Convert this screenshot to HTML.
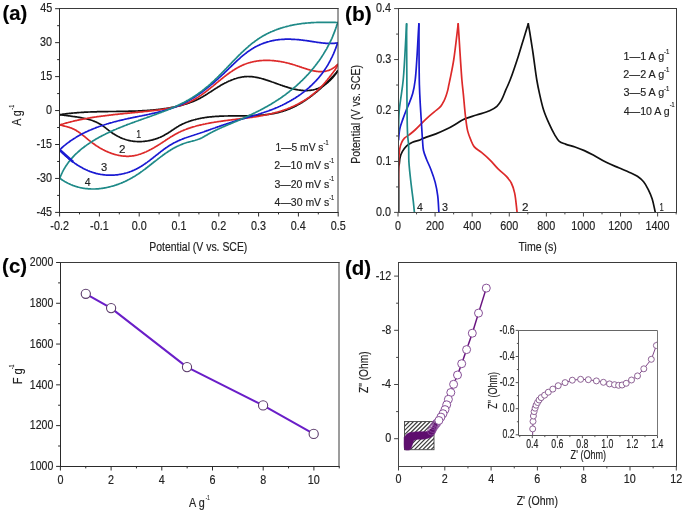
<!DOCTYPE html>
<html><head><meta charset="utf-8">
<style>
html,body{margin:0;padding:0;background:#fff;}
svg{display:block;will-change:transform;}
text{font-family:"Liberation Sans", sans-serif;stroke:#222;stroke-width:0.16px;}
</style></head><body>
<svg width="685" height="513" viewBox="0 0 685 513">
<rect width="685" height="513" fill="#fff"/>
<defs>
<clipPath id="ca"><rect x="59.5" y="8.5" width="278.5" height="204.0"/></clipPath>
<clipPath id="cb"><rect x="398.5" y="8.5" width="278.0" height="204.0"/></clipPath>
<clipPath id="ch"><rect x="404.5" y="421.5" width="29.5" height="28.2"/></clipPath>
<clipPath id="ci"><rect x="518.5" y="330.5" width="139.0" height="105.0"/></clipPath>
<pattern id="hatch" patternUnits="userSpaceOnUse" width="2.2" height="2.2" patternTransform="rotate(45)"><rect width="2.2" height="2.2" fill="#fff"/><line x1="0.5" y1="0" x2="0.5" y2="2.2" stroke="#333" stroke-width="0.85"/></pattern>
</defs>
<g clip-path="url(#ca)">
<path d="M59.8 114.7 L60.6 114.6 L61.4 114.5 L62.2 114.3 L62.9 114.2 L63.7 114.1 L64.5 114.0 L65.3 113.9 L66.1 113.8 L66.9 113.7 L67.7 113.6 L68.5 113.5 L69.3 113.4 L70.1 113.3 L70.9 113.3 L71.7 113.2 L72.4 113.1 L73.2 113.0 L74.0 113.0 L74.8 112.9 L75.6 112.8 L76.4 112.8 L77.2 112.7 L78.0 112.6 L78.8 112.6 L79.6 112.5 L80.4 112.5 L81.2 112.4 L82.0 112.4 L82.8 112.3 L83.6 112.3 L84.4 112.2 L85.2 112.2 L86.0 112.1 L86.8 112.1 L87.6 112.1 L88.5 112.0 L89.3 112.0 L90.1 112.0 L90.9 111.9 L91.7 111.9 L92.5 111.9 L93.3 111.9 L94.1 111.8 L94.9 111.8 L95.7 111.8 L96.5 111.8 L97.3 111.7 L98.1 111.7 L98.9 111.7 L99.7 111.7 L100.6 111.7 L101.4 111.7 L102.2 111.6 L103.0 111.6 L103.8 111.6 L104.6 111.6 L105.4 111.6 L106.2 111.6 L107.0 111.6 L107.8 111.6 L108.7 111.5 L109.5 111.5 L110.3 111.5 L111.1 111.5 L111.9 111.5 L112.7 111.5 L113.5 111.5 L114.3 111.5 L115.1 111.5 L115.9 111.5 L116.8 111.4 L117.6 111.4 L118.4 111.4 L119.2 111.4 L120.0 111.4 L120.8 111.4 L121.6 111.4 L122.4 111.4 L123.2 111.4 L124.0 111.3 L124.9 111.3 L125.7 111.3 L126.5 111.3 L127.3 111.3 L128.1 111.3 L128.9 111.2 L129.7 111.2 L130.5 111.2 L131.3 111.2 L132.1 111.2 L132.9 111.1 L133.7 111.1 L134.6 111.1 L135.4 111.1 L136.2 111.0 L137.0 111.0 L137.8 111.0 L138.6 110.9 L139.4 110.9 L140.2 110.9 L141.0 110.8 L141.8 110.8 L142.6 110.7 L143.4 110.7 L144.2 110.6 L145.0 110.6 L145.8 110.6 L146.6 110.5 L147.4 110.4 L148.2 110.4 L149.0 110.3 L149.8 110.3 L150.6 110.2 L151.4 110.1 L152.2 110.1 L153.0 110.0 L153.8 109.9 L154.6 109.9 L155.4 109.8 L156.2 109.7 L157.0 109.6 L157.8 109.5 L158.6 109.4 L159.4 109.3 L160.2 109.3 L161.0 109.2 L161.7 109.1 L162.5 108.9 L163.3 108.8 L164.1 108.7 L164.9 108.6 L165.7 108.5 L166.5 108.4 L167.3 108.3 L168.1 108.1 L168.8 108.0 L169.6 107.9 L170.4 107.7 L171.2 107.6 L172.0 107.4 L172.8 107.3 L173.5 107.1 L174.3 107.0 L175.1 106.8 L175.9 106.7 L176.6 106.5 L177.4 106.3 L178.2 106.1 L179.0 105.9 L179.7 105.8 L180.5 105.6 L181.3 105.4 L182.0 105.2 L182.8 105.0 L183.6 104.7 L184.3 104.5 L185.1 104.3 L185.8 104.1 L186.6 103.8 L187.3 103.6 L188.1 103.3 L188.8 103.1 L189.6 102.8 L190.3 102.5 L191.1 102.3 L191.8 102.0 L192.5 101.7 L193.3 101.4 L194.0 101.1 L194.7 100.8 L195.5 100.4 L196.2 100.1 L196.9 99.8 L197.6 99.4 L198.3 99.1 L199.0 98.7 L199.8 98.4 L200.5 98.0 L201.2 97.6 L201.9 97.2 L202.6 96.8 L203.2 96.4 L203.9 96.0 L204.6 95.6 L205.3 95.2 L206.0 94.7 L206.7 94.3 L207.4 93.9 L208.1 93.4 L208.7 93.0 L209.4 92.6 L210.1 92.1 L210.8 91.7 L211.5 91.2 L212.2 90.8 L212.8 90.3 L213.5 89.9 L214.2 89.4 L214.9 89.0 L215.6 88.6 L216.3 88.1 L217.0 87.7 L217.7 87.2 L218.4 86.8 L219.1 86.4 L219.8 86.0 L220.5 85.5 L221.2 85.1 L221.9 84.7 L222.6 84.3 L223.3 83.9 L224.1 83.5 L224.8 83.1 L225.5 82.8 L226.3 82.4 L227.0 82.0 L227.7 81.7 L228.5 81.3 L229.2 81.0 L230.0 80.7 L230.7 80.4 L231.5 80.1 L232.2 79.8 L233.0 79.5 L233.7 79.2 L234.5 78.9 L235.2 78.7 L236.0 78.5 L236.8 78.2 L237.5 78.0 L238.3 77.8 L239.1 77.6 L239.8 77.5 L240.6 77.3 L241.4 77.2 L242.1 77.0 L242.9 76.9 L243.7 76.8 L244.4 76.7 L245.2 76.7 L246.0 76.6 L246.7 76.6 L247.5 76.5 L248.3 76.5 L249.0 76.6 L249.8 76.6 L250.6 76.6 L251.4 76.7 L252.1 76.7 L252.9 76.8 L253.7 76.9 L254.4 77.0 L255.2 77.2 L256.0 77.3 L256.7 77.4 L257.5 77.6 L258.3 77.7 L259.0 77.9 L259.8 78.1 L260.6 78.3 L261.4 78.5 L262.1 78.7 L262.9 78.9 L263.7 79.1 L264.4 79.4 L265.2 79.6 L266.0 79.9 L266.8 80.1 L267.5 80.4 L268.3 80.6 L269.1 80.9 L269.9 81.2 L270.6 81.4 L271.4 81.7 L272.2 82.0 L273.0 82.2 L273.8 82.5 L274.5 82.8 L275.3 83.1 L276.1 83.4 L276.9 83.7 L277.7 83.9 L278.4 84.2 L279.2 84.5 L280.0 84.8 L280.8 85.1 L281.6 85.3 L282.4 85.6 L283.1 85.9 L283.9 86.1 L284.7 86.4 L285.5 86.7 L286.3 86.9 L287.1 87.1 L287.9 87.4 L288.6 87.6 L289.4 87.9 L290.2 88.1 L291.0 88.3 L291.8 88.5 L292.6 88.7 L293.4 88.9 L294.1 89.1 L294.9 89.3 L295.7 89.4 L296.5 89.6 L297.3 89.7 L298.0 89.9 L298.8 90.0 L299.6 90.1 L300.4 90.2 L301.1 90.3 L301.9 90.4 L302.7 90.4 L303.4 90.5 L304.2 90.5 L305.0 90.6 L305.7 90.6 L306.5 90.6 L307.3 90.6 L308.0 90.5 L308.8 90.5 L309.5 90.4 L310.3 90.3 L311.0 90.2 L311.7 90.1 L312.5 90.0 L313.2 89.9 L313.9 89.7 L314.7 89.5 L315.4 89.3 L316.1 89.1 L316.8 88.8 L317.5 88.6 L318.3 88.3 L319.0 88.0 L319.7 87.7 L320.4 87.3 L321.1 87.0 L321.7 86.6 L322.4 86.2 L323.1 85.8 L323.8 85.4 L324.4 85.0 L325.1 84.5 L325.8 84.0 L326.4 83.5 L327.0 83.0 L327.7 82.5 L328.3 82.0 L328.9 81.4 L329.5 80.9 L330.1 80.3 L330.7 79.7 L331.3 79.1 L331.9 78.5 L332.5 77.9 L333.0 77.2 L333.6 76.6 L334.1 75.9 L334.6 75.2 L335.2 74.6 L335.7 73.9 L336.2 73.2 L336.7 72.5 L337.1 71.7 L337.6 71.0" fill="none" stroke="#111" stroke-width="1.7" stroke-linejoin="round" stroke-linecap="round"/>
<path d="M337.6 71.0 L337.1 71.6 L336.7 72.2 L336.2 72.8 L335.7 73.4 L335.1 74.0 L334.6 74.6 L334.1 75.2 L333.5 75.8 L333.0 76.3 L332.4 76.9 L331.9 77.5 L331.3 78.0 L330.8 78.6 L330.3 79.2 L329.7 79.7 L329.1 80.3 L328.6 80.8 L328.0 81.4 L327.5 82.0 L326.9 82.5 L326.3 83.1 L325.8 83.6 L325.2 84.2 L324.6 84.7 L324.1 85.3 L323.5 85.8 L322.9 86.4 L322.3 86.9 L321.7 87.4 L321.1 88.0 L320.5 88.5 L319.9 89.0 L319.3 89.6 L318.7 90.1 L318.1 90.6 L317.5 91.2 L316.9 91.7 L316.2 92.2 L315.6 92.7 L315.0 93.2 L314.3 93.7 L313.7 94.2 L313.1 94.7 L312.4 95.3 L311.8 95.7 L311.1 96.2 L310.5 96.7 L309.8 97.2 L309.1 97.7 L308.5 98.2 L307.8 98.6 L307.1 99.1 L306.5 99.6 L305.8 100.0 L305.1 100.5 L304.4 100.9 L303.7 101.4 L303.0 101.8 L302.4 102.2 L301.7 102.7 L301.0 103.1 L300.3 103.5 L299.6 103.9 L298.9 104.3 L298.1 104.7 L297.4 105.1 L296.7 105.5 L296.0 105.9 L295.3 106.2 L294.6 106.6 L293.8 106.9 L293.1 107.3 L292.4 107.6 L291.7 108.0 L290.9 108.3 L290.2 108.6 L289.4 108.9 L288.7 109.2 L288.0 109.5 L287.2 109.8 L286.5 110.1 L285.7 110.3 L285.0 110.6 L284.2 110.8 L283.5 111.1 L282.7 111.3 L282.0 111.6 L281.2 111.8 L280.4 112.0 L279.7 112.2 L278.9 112.4 L278.1 112.6 L277.4 112.8 L276.6 112.9 L275.8 113.1 L275.1 113.3 L274.3 113.4 L273.5 113.6 L272.7 113.7 L271.9 113.8 L271.2 114.0 L270.4 114.1 L269.6 114.2 L268.8 114.3 L268.0 114.4 L267.2 114.5 L266.4 114.6 L265.6 114.7 L264.9 114.8 L264.1 114.9 L263.3 115.0 L262.5 115.0 L261.7 115.1 L260.9 115.2 L260.1 115.2 L259.3 115.3 L258.5 115.3 L257.7 115.4 L256.9 115.4 L256.1 115.5 L255.3 115.5 L254.5 115.6 L253.7 115.6 L252.8 115.6 L252.0 115.7 L251.2 115.7 L250.4 115.7 L249.6 115.7 L248.8 115.7 L248.0 115.8 L247.2 115.8 L246.4 115.8 L245.6 115.8 L244.8 115.8 L243.9 115.8 L243.1 115.8 L242.3 115.8 L241.5 115.8 L240.7 115.8 L239.9 115.9 L239.1 115.9 L238.3 115.9 L237.4 115.9 L236.6 115.9 L235.8 115.9 L235.0 115.9 L234.2 115.9 L233.4 115.9 L232.6 115.9 L231.7 115.9 L230.9 115.9 L230.1 115.9 L229.3 115.9 L228.5 115.9 L227.7 116.0 L226.9 116.0 L226.1 116.0 L225.2 116.0 L224.4 116.0 L223.6 116.1 L222.8 116.1 L222.0 116.1 L221.2 116.1 L220.4 116.2 L219.6 116.2 L218.8 116.3 L218.0 116.3 L217.2 116.3 L216.4 116.4 L215.6 116.4 L214.8 116.5 L214.0 116.6 L213.2 116.6 L212.4 116.7 L211.6 116.8 L210.8 116.9 L210.0 116.9 L209.2 117.0 L208.4 117.1 L207.6 117.2 L206.8 117.3 L206.0 117.4 L205.2 117.5 L204.4 117.7 L203.6 117.8 L202.8 117.9 L202.1 118.0 L201.3 118.2 L200.5 118.3 L199.7 118.5 L198.9 118.7 L198.2 118.8 L197.4 119.0 L196.6 119.2 L195.8 119.4 L195.1 119.6 L194.3 119.8 L193.5 120.0 L192.8 120.2 L192.0 120.4 L191.2 120.7 L190.5 120.9 L189.7 121.2 L189.0 121.4 L188.2 121.7 L187.5 122.0 L186.7 122.2 L186.0 122.5 L185.3 122.8 L184.5 123.2 L183.8 123.5 L183.1 123.8 L182.4 124.1 L181.6 124.5 L180.9 124.9 L180.2 125.2 L179.5 125.6 L178.8 126.0 L178.2 126.4 L177.5 126.8 L176.8 127.2 L176.1 127.7 L175.4 128.1 L174.8 128.5 L174.1 129.0 L173.4 129.4 L172.8 129.9 L172.1 130.3 L171.4 130.8 L170.8 131.2 L170.1 131.7 L169.4 132.1 L168.8 132.5 L168.1 133.0 L167.4 133.4 L166.7 133.8 L166.0 134.2 L165.3 134.6 L164.6 135.0 L163.9 135.4 L163.2 135.8 L162.5 136.2 L161.7 136.5 L161.0 136.9 L160.3 137.2 L159.5 137.5 L158.7 137.8 L158.0 138.1 L157.2 138.4 L156.5 138.7 L155.7 138.9 L154.9 139.2 L154.1 139.4 L153.3 139.6 L152.6 139.9 L151.8 140.1 L151.0 140.2 L150.2 140.4 L149.4 140.6 L148.6 140.7 L147.8 140.9 L147.0 141.0 L146.2 141.1 L145.3 141.2 L144.5 141.3 L143.7 141.4 L142.9 141.5 L142.1 141.5 L141.3 141.6 L140.5 141.6 L139.7 141.6 L138.9 141.6 L138.1 141.6 L137.3 141.6 L136.5 141.5 L135.7 141.5 L134.9 141.4 L134.1 141.3 L133.3 141.3 L132.5 141.1 L131.7 141.0 L130.9 140.9 L130.1 140.7 L129.3 140.6 L128.6 140.4 L127.8 140.2 L127.0 140.0 L126.2 139.8 L125.5 139.5 L124.7 139.3 L124.0 139.0 L123.2 138.8 L122.5 138.5 L121.8 138.2 L121.0 137.9 L120.3 137.5 L119.6 137.2 L118.9 136.8 L118.2 136.5 L117.4 136.1 L116.7 135.7 L116.0 135.3 L115.4 134.9 L114.7 134.5 L114.0 134.1 L113.3 133.7 L112.6 133.2 L112.0 132.8 L111.3 132.3 L110.6 131.8 L110.0 131.3 L109.4 130.9 L108.7 130.4 L108.1 129.9 L107.4 129.4 L106.8 128.9 L106.2 128.4 L105.5 127.9 L104.9 127.4 L104.2 126.9 L103.6 126.4 L102.9 125.9 L102.3 125.5 L101.6 125.0 L100.9 124.6 L100.2 124.2 L99.5 123.8 L98.8 123.4 L98.1 123.0 L97.4 122.7 L96.7 122.3 L96.0 122.0 L95.3 121.7 L94.5 121.4 L93.8 121.1 L93.0 120.8 L92.3 120.5 L91.5 120.3 L90.8 120.0 L90.0 119.8 L89.2 119.6 L88.4 119.3 L87.7 119.1 L86.9 118.9 L86.1 118.7 L85.3 118.5 L84.5 118.4 L83.7 118.2 L82.9 118.0 L82.1 117.9 L81.3 117.7 L80.5 117.6 L79.7 117.4 L78.9 117.3 L78.1 117.2 L77.3 117.0 L76.5 116.9 L75.7 116.8 L74.9 116.7 L74.1 116.6 L73.2 116.5 L72.4 116.4 L71.6 116.3 L70.8 116.1 L70.0 116.0 L69.2 115.9 L68.4 115.8 L67.6 115.7 L66.8 115.6 L66.0 115.5 L65.2 115.4 L64.5 115.3 L63.7 115.2 L62.9 115.1 L62.1 115.0 L61.3 114.9 L60.6 114.8 L59.8 114.7" fill="none" stroke="#111" stroke-width="1.7" stroke-linejoin="round" stroke-linecap="round"/>
<path d="M59.8 124.9 L60.6 124.7 L61.3 124.4 L62.1 124.2 L62.9 124.0 L63.6 123.7 L64.4 123.5 L65.1 123.3 L65.9 123.1 L66.7 122.9 L67.5 122.7 L68.2 122.5 L69.0 122.3 L69.8 122.1 L70.5 121.9 L71.3 121.7 L72.1 121.5 L72.9 121.3 L73.6 121.1 L74.4 120.9 L75.2 120.7 L76.0 120.6 L76.8 120.4 L77.5 120.2 L78.3 120.1 L79.1 119.9 L79.9 119.7 L80.7 119.6 L81.5 119.4 L82.3 119.3 L83.0 119.1 L83.8 119.0 L84.6 118.8 L85.4 118.7 L86.2 118.5 L87.0 118.4 L87.8 118.2 L88.6 118.1 L89.4 118.0 L90.1 117.8 L90.9 117.7 L91.7 117.6 L92.5 117.4 L93.3 117.3 L94.1 117.2 L94.9 117.1 L95.7 117.0 L96.5 116.8 L97.3 116.7 L98.1 116.6 L98.9 116.5 L99.7 116.4 L100.5 116.3 L101.3 116.2 L102.1 116.1 L102.9 116.0 L103.7 115.9 L104.5 115.8 L105.3 115.7 L106.1 115.6 L106.9 115.5 L107.7 115.4 L108.5 115.3 L109.3 115.2 L110.1 115.1 L110.9 115.0 L111.7 114.9 L112.5 114.8 L113.3 114.7 L114.1 114.6 L114.9 114.5 L115.7 114.4 L116.5 114.4 L117.3 114.3 L118.1 114.2 L119.0 114.1 L119.8 114.0 L120.6 113.9 L121.4 113.9 L122.2 113.8 L123.0 113.7 L123.8 113.6 L124.6 113.5 L125.4 113.4 L126.2 113.4 L127.0 113.3 L127.8 113.2 L128.6 113.1 L129.4 113.1 L130.2 113.0 L131.0 112.9 L131.8 112.8 L132.6 112.7 L133.4 112.7 L134.3 112.6 L135.1 112.5 L135.9 112.4 L136.7 112.3 L137.5 112.3 L138.3 112.2 L139.1 112.1 L139.9 112.0 L140.7 111.9 L141.5 111.9 L142.3 111.8 L143.1 111.7 L143.9 111.6 L144.7 111.5 L145.5 111.4 L146.3 111.4 L147.1 111.3 L147.9 111.2 L148.7 111.1 L149.5 111.0 L150.3 110.9 L151.1 110.8 L151.9 110.7 L152.7 110.7 L153.5 110.6 L154.3 110.5 L155.1 110.4 L155.9 110.3 L156.7 110.2 L157.5 110.1 L158.3 110.0 L159.1 109.9 L159.9 109.8 L160.7 109.6 L161.5 109.5 L162.2 109.4 L163.0 109.3 L163.8 109.2 L164.6 109.1 L165.4 108.9 L166.2 108.8 L167.0 108.7 L167.7 108.5 L168.5 108.4 L169.3 108.2 L170.1 108.1 L170.8 107.9 L171.6 107.7 L172.4 107.6 L173.2 107.4 L173.9 107.2 L174.7 107.0 L175.4 106.8 L176.2 106.6 L177.0 106.4 L177.7 106.2 L178.5 106.0 L179.2 105.8 L180.0 105.6 L180.7 105.3 L181.5 105.1 L182.2 104.9 L183.0 104.6 L183.7 104.3 L184.4 104.1 L185.2 103.8 L185.9 103.5 L186.6 103.2 L187.3 102.9 L188.0 102.6 L188.8 102.3 L189.5 102.0 L190.2 101.6 L190.9 101.3 L191.6 100.9 L192.3 100.6 L193.0 100.2 L193.7 99.8 L194.4 99.4 L195.1 99.0 L195.8 98.6 L196.4 98.2 L197.1 97.8 L197.8 97.4 L198.5 96.9 L199.1 96.5 L199.8 96.0 L200.5 95.6 L201.2 95.1 L201.8 94.6 L202.5 94.2 L203.1 93.7 L203.8 93.2 L204.4 92.7 L205.1 92.2 L205.8 91.7 L206.4 91.2 L207.1 90.7 L207.7 90.2 L208.4 89.7 L209.0 89.2 L209.6 88.7 L210.3 88.2 L210.9 87.7 L211.6 87.1 L212.2 86.6 L212.9 86.1 L213.5 85.6 L214.1 85.0 L214.8 84.5 L215.4 84.0 L216.1 83.4 L216.7 82.9 L217.3 82.4 L218.0 81.9 L218.6 81.3 L219.3 80.8 L219.9 80.3 L220.5 79.8 L221.2 79.2 L221.8 78.7 L222.5 78.2 L223.1 77.7 L223.8 77.2 L224.4 76.7 L225.0 76.2 L225.7 75.7 L226.3 75.2 L227.0 74.7 L227.6 74.2 L228.3 73.7 L228.9 73.3 L229.6 72.8 L230.3 72.3 L230.9 71.9 L231.6 71.4 L232.3 71.0 L232.9 70.5 L233.6 70.1 L234.3 69.7 L234.9 69.3 L235.6 68.8 L236.3 68.4 L237.0 68.0 L237.6 67.7 L238.3 67.3 L239.0 66.9 L239.7 66.5 L240.4 66.2 L241.1 65.9 L241.8 65.5 L242.5 65.2 L243.2 64.9 L243.9 64.6 L244.7 64.3 L245.4 64.0 L246.1 63.8 L246.8 63.5 L247.6 63.3 L248.3 63.0 L249.0 62.8 L249.8 62.6 L250.5 62.4 L251.3 62.2 L252.0 62.0 L252.8 61.8 L253.5 61.7 L254.3 61.5 L255.0 61.4 L255.8 61.3 L256.6 61.1 L257.3 61.0 L258.1 60.9 L258.9 60.8 L259.6 60.7 L260.4 60.7 L261.2 60.6 L262.0 60.5 L262.7 60.5 L263.5 60.4 L264.3 60.4 L265.1 60.4 L265.9 60.4 L266.7 60.4 L267.5 60.4 L268.3 60.4 L269.1 60.4 L269.9 60.4 L270.6 60.5 L271.4 60.5 L272.2 60.6 L273.0 60.6 L273.8 60.7 L274.6 60.8 L275.4 60.9 L276.2 61.0 L277.0 61.1 L277.8 61.2 L278.6 61.3 L279.4 61.4 L280.3 61.5 L281.1 61.7 L281.9 61.8 L282.7 62.0 L283.5 62.1 L284.3 62.3 L285.1 62.5 L285.9 62.7 L286.7 62.8 L287.5 63.0 L288.3 63.2 L289.1 63.4 L289.9 63.7 L290.7 63.9 L291.5 64.1 L292.3 64.3 L293.1 64.6 L293.9 64.8 L294.7 65.0 L295.4 65.3 L296.2 65.6 L297.0 65.8 L297.8 66.1 L298.6 66.3 L299.4 66.6 L300.2 66.9 L301.0 67.1 L301.7 67.4 L302.5 67.7 L303.3 67.9 L304.1 68.2 L304.9 68.4 L305.6 68.7 L306.4 68.9 L307.2 69.2 L307.9 69.4 L308.7 69.6 L309.5 69.8 L310.2 70.1 L311.0 70.3 L311.8 70.4 L312.5 70.6 L313.3 70.8 L314.0 70.9 L314.8 71.1 L315.5 71.2 L316.3 71.3 L317.0 71.4 L317.8 71.5 L318.5 71.6 L319.3 71.6 L320.0 71.6 L320.7 71.7 L321.5 71.7 L322.2 71.6 L322.9 71.6 L323.6 71.5 L324.4 71.4 L325.1 71.3 L325.8 71.2 L326.5 71.0 L327.2 70.8 L327.9 70.6 L328.7 70.4 L329.4 70.1 L330.1 69.8 L330.8 69.5 L331.5 69.1 L332.2 68.7 L332.8 68.3 L333.5 67.9 L334.2 67.4 L334.9 66.9 L335.6 66.3 L336.3 65.8 L336.9 65.2 L337.6 64.5" fill="none" stroke="#dd2a2a" stroke-width="1.7" stroke-linejoin="round" stroke-linecap="round"/>
<path d="M337.6 64.5 L337.4 65.3 L337.2 66.0 L336.9 66.7 L336.5 67.4 L336.2 68.1 L335.7 68.8 L335.3 69.4 L334.9 70.1 L334.4 70.7 L333.9 71.3 L333.4 72.0 L332.9 72.6 L332.5 73.2 L332.0 73.8 L331.5 74.5 L331.0 75.1 L330.5 75.7 L330.0 76.4 L329.5 77.0 L329.0 77.7 L328.5 78.3 L328.0 78.9 L327.5 79.6 L327.0 80.2 L326.5 80.8 L326.0 81.4 L325.5 82.1 L324.9 82.7 L324.4 83.3 L323.9 83.9 L323.3 84.5 L322.8 85.1 L322.3 85.7 L321.7 86.3 L321.1 86.9 L320.6 87.5 L320.0 88.0 L319.4 88.6 L318.9 89.2 L318.3 89.7 L317.7 90.3 L317.1 90.8 L316.5 91.4 L315.9 91.9 L315.3 92.4 L314.7 92.9 L314.0 93.4 L313.4 94.0 L312.8 94.5 L312.1 95.0 L311.5 95.4 L310.9 95.9 L310.2 96.4 L309.6 96.9 L308.9 97.4 L308.2 97.8 L307.6 98.3 L306.9 98.7 L306.2 99.2 L305.6 99.6 L304.9 100.0 L304.2 100.5 L303.5 100.9 L302.8 101.3 L302.1 101.7 L301.4 102.1 L300.7 102.5 L300.0 102.9 L299.3 103.3 L298.6 103.7 L297.9 104.0 L297.2 104.4 L296.5 104.8 L295.7 105.1 L295.0 105.5 L294.3 105.8 L293.6 106.2 L292.8 106.5 L292.1 106.8 L291.4 107.1 L290.6 107.5 L289.9 107.8 L289.1 108.1 L288.4 108.4 L287.6 108.7 L286.9 109.0 L286.1 109.2 L285.4 109.5 L284.6 109.8 L283.9 110.1 L283.1 110.3 L282.4 110.6 L281.6 110.8 L280.9 111.1 L280.1 111.3 L279.3 111.5 L278.6 111.8 L277.8 112.0 L277.1 112.2 L276.3 112.4 L275.5 112.6 L274.8 112.8 L274.0 113.0 L273.2 113.2 L272.4 113.4 L271.7 113.6 L270.9 113.8 L270.1 114.0 L269.3 114.2 L268.6 114.3 L267.8 114.5 L267.0 114.7 L266.2 114.8 L265.4 115.0 L264.6 115.1 L263.9 115.3 L263.1 115.5 L262.3 115.6 L261.5 115.7 L260.7 115.9 L259.9 116.0 L259.1 116.2 L258.3 116.3 L257.6 116.4 L256.8 116.6 L256.0 116.7 L255.2 116.8 L254.4 116.9 L253.6 117.0 L252.8 117.2 L252.0 117.3 L251.2 117.4 L250.4 117.5 L249.6 117.6 L248.8 117.7 L248.0 117.8 L247.2 117.9 L246.4 118.0 L245.6 118.1 L244.8 118.2 L244.0 118.3 L243.2 118.4 L242.4 118.5 L241.6 118.6 L240.8 118.7 L240.0 118.8 L239.2 118.9 L238.4 119.0 L237.6 119.1 L236.8 119.2 L236.0 119.3 L235.2 119.4 L234.4 119.5 L233.6 119.6 L232.8 119.7 L232.0 119.8 L231.2 119.9 L230.4 120.0 L229.6 120.1 L228.8 120.2 L228.0 120.3 L227.2 120.4 L226.4 120.5 L225.6 120.6 L224.8 120.7 L224.0 120.8 L223.2 120.9 L222.4 121.1 L221.6 121.2 L220.8 121.3 L220.0 121.4 L219.2 121.5 L218.4 121.6 L217.6 121.7 L216.8 121.9 L216.0 122.0 L215.2 122.1 L214.4 122.2 L213.6 122.4 L212.8 122.5 L212.0 122.6 L211.2 122.8 L210.4 122.9 L209.6 123.1 L208.8 123.2 L208.0 123.4 L207.2 123.5 L206.4 123.7 L205.6 123.8 L204.9 124.0 L204.1 124.2 L203.3 124.3 L202.5 124.5 L201.7 124.7 L200.9 124.9 L200.1 125.1 L199.3 125.2 L198.6 125.4 L197.8 125.6 L197.0 125.8 L196.2 126.0 L195.4 126.3 L194.7 126.5 L193.9 126.7 L193.1 126.9 L192.3 127.1 L191.6 127.4 L190.8 127.6 L190.0 127.9 L189.3 128.1 L188.5 128.4 L187.8 128.6 L187.0 128.9 L186.3 129.2 L185.5 129.5 L184.8 129.8 L184.0 130.1 L183.3 130.4 L182.6 130.7 L181.8 131.0 L181.1 131.3 L180.4 131.7 L179.7 132.0 L179.0 132.3 L178.3 132.7 L177.6 133.1 L176.9 133.4 L176.2 133.8 L175.5 134.2 L174.8 134.6 L174.1 135.0 L173.4 135.4 L172.7 135.8 L172.1 136.2 L171.4 136.6 L170.7 137.0 L170.1 137.4 L169.4 137.9 L168.7 138.3 L168.0 138.7 L167.4 139.2 L166.7 139.6 L166.0 140.0 L165.4 140.5 L164.7 140.9 L164.0 141.4 L163.4 141.8 L162.7 142.2 L162.0 142.7 L161.3 143.1 L160.6 143.6 L160.0 144.0 L159.3 144.4 L158.6 144.9 L157.9 145.3 L157.2 145.7 L156.5 146.2 L155.8 146.6 L155.1 147.0 L154.4 147.4 L153.7 147.9 L152.9 148.3 L152.2 148.7 L151.5 149.1 L150.8 149.5 L150.0 149.8 L149.3 150.2 L148.6 150.6 L147.8 151.0 L147.1 151.3 L146.3 151.7 L145.6 152.0 L144.8 152.3 L144.1 152.6 L143.3 152.9 L142.6 153.2 L141.8 153.5 L141.1 153.8 L140.3 154.1 L139.5 154.3 L138.8 154.5 L138.0 154.8 L137.3 155.0 L136.5 155.2 L135.7 155.3 L134.9 155.5 L134.2 155.7 L133.4 155.8 L132.6 155.9 L131.8 156.0 L131.1 156.1 L130.3 156.2 L129.5 156.2 L128.7 156.3 L127.9 156.3 L127.1 156.3 L126.4 156.3 L125.6 156.2 L124.8 156.2 L124.0 156.1 L123.2 156.1 L122.4 156.0 L121.7 155.9 L120.9 155.8 L120.1 155.6 L119.3 155.5 L118.5 155.3 L117.8 155.2 L117.0 155.0 L116.2 154.8 L115.4 154.6 L114.7 154.4 L113.9 154.2 L113.1 153.9 L112.4 153.7 L111.6 153.4 L110.8 153.1 L110.1 152.8 L109.3 152.6 L108.6 152.2 L107.8 151.9 L107.1 151.6 L106.3 151.3 L105.6 150.9 L104.8 150.6 L104.1 150.2 L103.4 149.8 L102.6 149.5 L101.9 149.1 L101.2 148.7 L100.5 148.3 L99.8 147.9 L99.1 147.4 L98.4 147.0 L97.7 146.6 L97.0 146.1 L96.3 145.7 L95.6 145.2 L95.0 144.8 L94.3 144.3 L93.6 143.8 L93.0 143.3 L92.3 142.9 L91.7 142.4 L91.0 141.9 L90.4 141.4 L89.8 140.9 L89.1 140.4 L88.5 139.9 L87.9 139.4 L87.3 138.8 L86.7 138.3 L86.1 137.8 L85.5 137.3 L84.9 136.8 L84.2 136.3 L83.6 135.8 L83.0 135.3 L82.4 134.8 L81.8 134.3 L81.2 133.9 L80.5 133.4 L79.9 132.9 L79.3 132.5 L78.6 132.0 L78.0 131.6 L77.3 131.2 L76.6 130.7 L76.0 130.3 L75.3 129.9 L74.6 129.6 L73.9 129.2 L73.1 128.9 L72.4 128.5 L71.7 128.2 L70.9 127.9 L70.1 127.7 L69.3 127.4 L68.5 127.2 L67.7 126.9 L66.9 126.7 L66.0 126.5 L65.2 126.3 L64.4 126.1 L63.6 125.9 L62.8 125.7 L62.0 125.5 L61.3 125.3 L60.5 125.1 L59.8 124.9" fill="none" stroke="#dd2a2a" stroke-width="1.7" stroke-linejoin="round" stroke-linecap="round"/>
<path d="M59.8 149.7 L60.4 149.1 L61.0 148.6 L61.6 148.0 L62.2 147.5 L62.8 147.0 L63.4 146.4 L64.0 145.9 L64.6 145.4 L65.3 144.9 L65.9 144.4 L66.5 143.9 L67.1 143.4 L67.8 142.9 L68.4 142.4 L69.1 142.0 L69.7 141.5 L70.3 141.0 L71.0 140.6 L71.7 140.1 L72.3 139.7 L73.0 139.3 L73.6 138.8 L74.3 138.4 L75.0 138.0 L75.6 137.6 L76.3 137.1 L77.0 136.7 L77.7 136.3 L78.4 135.9 L79.0 135.6 L79.7 135.2 L80.4 134.8 L81.1 134.4 L81.8 134.1 L82.5 133.7 L83.2 133.3 L83.9 133.0 L84.6 132.6 L85.3 132.3 L86.0 131.9 L86.8 131.6 L87.5 131.3 L88.2 130.9 L88.9 130.6 L89.6 130.3 L90.4 130.0 L91.1 129.7 L91.8 129.4 L92.6 129.1 L93.3 128.8 L94.0 128.5 L94.8 128.2 L95.5 127.9 L96.2 127.6 L97.0 127.3 L97.7 127.1 L98.5 126.8 L99.2 126.5 L100.0 126.3 L100.7 126.0 L101.5 125.7 L102.3 125.5 L103.0 125.2 L103.8 125.0 L104.5 124.7 L105.3 124.5 L106.1 124.3 L106.8 124.0 L107.6 123.8 L108.4 123.6 L109.1 123.3 L109.9 123.1 L110.7 122.9 L111.5 122.7 L112.2 122.5 L113.0 122.2 L113.8 122.0 L114.6 121.8 L115.4 121.6 L116.2 121.4 L116.9 121.2 L117.7 121.0 L118.5 120.8 L119.3 120.6 L120.1 120.4 L120.9 120.2 L121.7 120.1 L122.5 119.9 L123.3 119.7 L124.0 119.5 L124.8 119.3 L125.6 119.1 L126.4 119.0 L127.2 118.8 L128.0 118.6 L128.8 118.4 L129.6 118.3 L130.4 118.1 L131.2 117.9 L132.0 117.8 L132.8 117.6 L133.6 117.4 L134.4 117.3 L135.2 117.1 L136.0 116.9 L136.8 116.8 L137.6 116.6 L138.4 116.5 L139.2 116.3 L140.0 116.1 L140.8 116.0 L141.7 115.8 L142.5 115.6 L143.3 115.5 L144.1 115.3 L144.9 115.2 L145.7 115.0 L146.5 114.8 L147.3 114.7 L148.1 114.5 L148.9 114.3 L149.6 114.1 L150.4 114.0 L151.2 113.8 L152.0 113.6 L152.8 113.4 L153.6 113.3 L154.4 113.1 L155.2 112.9 L156.0 112.7 L156.8 112.5 L157.6 112.3 L158.4 112.1 L159.1 111.9 L159.9 111.7 L160.7 111.5 L161.5 111.3 L162.3 111.1 L163.0 110.9 L163.8 110.7 L164.6 110.5 L165.3 110.3 L166.1 110.0 L166.9 109.8 L167.6 109.6 L168.4 109.3 L169.2 109.1 L169.9 108.9 L170.7 108.6 L171.4 108.3 L172.2 108.1 L172.9 107.8 L173.7 107.6 L174.4 107.3 L175.2 107.0 L175.9 106.7 L176.6 106.4 L177.4 106.1 L178.1 105.8 L178.8 105.5 L179.5 105.2 L180.3 104.9 L181.0 104.6 L181.7 104.2 L182.4 103.9 L183.1 103.6 L183.8 103.2 L184.5 102.9 L185.2 102.5 L185.9 102.1 L186.6 101.8 L187.3 101.4 L188.0 101.0 L188.7 100.6 L189.4 100.2 L190.1 99.8 L190.7 99.5 L191.4 99.0 L192.1 98.6 L192.8 98.2 L193.4 97.8 L194.1 97.4 L194.8 97.0 L195.4 96.5 L196.1 96.1 L196.8 95.7 L197.4 95.2 L198.1 94.8 L198.7 94.3 L199.4 93.9 L200.0 93.4 L200.7 93.0 L201.3 92.5 L202.0 92.0 L202.6 91.5 L203.2 91.1 L203.9 90.6 L204.5 90.1 L205.1 89.6 L205.8 89.1 L206.4 88.6 L207.0 88.1 L207.6 87.6 L208.3 87.1 L208.9 86.6 L209.5 86.1 L210.1 85.6 L210.7 85.1 L211.4 84.6 L212.0 84.1 L212.6 83.6 L213.2 83.0 L213.8 82.5 L214.4 82.0 L215.0 81.5 L215.6 80.9 L216.2 80.4 L216.8 79.8 L217.4 79.3 L218.0 78.8 L218.6 78.2 L219.2 77.7 L219.8 77.1 L220.4 76.6 L221.0 76.0 L221.6 75.5 L222.2 74.9 L222.8 74.4 L223.4 73.8 L224.0 73.3 L224.6 72.7 L225.1 72.2 L225.7 71.6 L226.3 71.0 L226.9 70.5 L227.5 69.9 L228.1 69.4 L228.6 68.8 L229.2 68.2 L229.8 67.7 L230.4 67.1 L231.0 66.5 L231.6 66.0 L232.1 65.4 L232.7 64.8 L233.3 64.3 L233.9 63.7 L234.5 63.2 L235.1 62.6 L235.6 62.1 L236.2 61.5 L236.8 61.0 L237.4 60.4 L238.0 59.9 L238.6 59.3 L239.2 58.8 L239.8 58.3 L240.4 57.7 L241.0 57.2 L241.6 56.7 L242.2 56.2 L242.8 55.7 L243.4 55.2 L244.1 54.6 L244.7 54.2 L245.3 53.7 L245.9 53.2 L246.6 52.7 L247.2 52.2 L247.8 51.7 L248.5 51.3 L249.1 50.8 L249.8 50.4 L250.4 49.9 L251.1 49.5 L251.7 49.1 L252.4 48.7 L253.1 48.3 L253.8 47.8 L254.4 47.5 L255.1 47.1 L255.8 46.7 L256.5 46.3 L257.2 46.0 L258.0 45.6 L258.7 45.3 L259.4 44.9 L260.1 44.6 L260.9 44.3 L261.6 44.0 L262.3 43.7 L263.1 43.4 L263.8 43.1 L264.6 42.9 L265.3 42.6 L266.1 42.4 L266.9 42.1 L267.6 41.9 L268.4 41.7 L269.2 41.5 L269.9 41.3 L270.7 41.1 L271.5 40.9 L272.3 40.7 L273.1 40.6 L273.9 40.4 L274.6 40.3 L275.4 40.1 L276.2 40.0 L277.0 39.9 L277.8 39.8 L278.6 39.7 L279.4 39.6 L280.2 39.5 L281.0 39.5 L281.8 39.4 L282.6 39.4 L283.4 39.3 L284.2 39.3 L285.0 39.2 L285.8 39.2 L286.6 39.2 L287.4 39.2 L288.2 39.2 L289.1 39.2 L289.9 39.2 L290.7 39.2 L291.5 39.3 L292.3 39.3 L293.1 39.3 L293.9 39.4 L294.7 39.4 L295.5 39.5 L296.3 39.5 L297.1 39.6 L298.0 39.7 L298.8 39.7 L299.6 39.8 L300.4 39.9 L301.2 40.0 L302.0 40.1 L302.8 40.2 L303.6 40.3 L304.4 40.4 L305.2 40.5 L306.0 40.6 L306.8 40.7 L307.6 40.8 L308.4 40.9 L309.2 41.1 L310.0 41.2 L310.8 41.3 L311.6 41.4 L312.4 41.6 L313.2 41.7 L314.0 41.8 L314.8 41.9 L315.6 42.0 L316.4 42.2 L317.1 42.3 L317.9 42.4 L318.7 42.5 L319.5 42.6 L320.3 42.7 L321.1 42.8 L321.9 42.9 L322.7 43.0 L323.4 43.1 L324.2 43.1 L325.0 43.2 L325.8 43.3 L326.6 43.3 L327.4 43.3 L328.2 43.4 L328.9 43.4 L329.7 43.4 L330.5 43.4 L331.3 43.4 L332.1 43.4 L332.9 43.4 L333.7 43.3 L334.4 43.3 L335.2 43.2 L336.0 43.1 L336.8 43.0 L337.6 42.9" fill="none" stroke="#1a1ad2" stroke-width="1.7" stroke-linejoin="round" stroke-linecap="round"/>
<path d="M337.6 42.9 L337.4 43.7 L337.1 44.4 L336.9 45.2 L336.6 45.9 L336.3 46.6 L336.1 47.4 L335.8 48.1 L335.5 48.9 L335.2 49.6 L334.9 50.4 L334.6 51.1 L334.3 51.9 L334.0 52.6 L333.7 53.3 L333.4 54.1 L333.0 54.8 L332.7 55.5 L332.4 56.3 L332.0 57.0 L331.7 57.7 L331.3 58.4 L330.9 59.1 L330.6 59.9 L330.2 60.6 L329.8 61.3 L329.5 62.0 L329.1 62.7 L328.7 63.4 L328.3 64.1 L327.9 64.8 L327.5 65.5 L327.0 66.2 L326.6 66.9 L326.2 67.5 L325.7 68.2 L325.3 68.9 L324.9 69.6 L324.4 70.2 L324.0 70.9 L323.5 71.5 L323.0 72.2 L322.6 72.8 L322.1 73.5 L321.6 74.1 L321.1 74.8 L320.6 75.4 L320.1 76.0 L319.6 76.6 L319.1 77.3 L318.6 77.9 L318.0 78.5 L317.5 79.1 L317.0 79.7 L316.4 80.3 L315.9 80.9 L315.4 81.4 L314.8 82.0 L314.2 82.6 L313.7 83.2 L313.1 83.7 L312.5 84.3 L312.0 84.9 L311.4 85.4 L310.8 86.0 L310.2 86.5 L309.6 87.0 L309.0 87.6 L308.4 88.1 L307.8 88.6 L307.2 89.1 L306.6 89.7 L306.0 90.2 L305.3 90.7 L304.7 91.2 L304.1 91.7 L303.4 92.2 L302.8 92.7 L302.2 93.1 L301.5 93.6 L300.9 94.1 L300.2 94.6 L299.6 95.0 L298.9 95.5 L298.2 96.0 L297.6 96.4 L296.9 96.8 L296.2 97.3 L295.6 97.7 L294.9 98.2 L294.2 98.6 L293.5 99.0 L292.8 99.4 L292.1 99.8 L291.4 100.3 L290.7 100.7 L290.0 101.1 L289.3 101.5 L288.6 101.8 L287.9 102.2 L287.2 102.6 L286.5 103.0 L285.8 103.4 L285.1 103.7 L284.4 104.1 L283.6 104.5 L282.9 104.8 L282.2 105.2 L281.5 105.5 L280.7 105.8 L280.0 106.2 L279.3 106.5 L278.5 106.8 L277.8 107.2 L277.1 107.5 L276.3 107.8 L275.6 108.1 L274.9 108.4 L274.1 108.7 L273.4 109.0 L272.6 109.3 L271.9 109.6 L271.1 109.9 L270.4 110.1 L269.6 110.4 L268.9 110.7 L268.1 111.0 L267.4 111.2 L266.6 111.5 L265.8 111.8 L265.1 112.0 L264.3 112.3 L263.6 112.5 L262.8 112.8 L262.0 113.0 L261.3 113.3 L260.5 113.5 L259.8 113.8 L259.0 114.0 L258.2 114.3 L257.5 114.5 L256.7 114.7 L255.9 115.0 L255.2 115.2 L254.4 115.4 L253.6 115.7 L252.9 115.9 L252.1 116.1 L251.3 116.4 L250.5 116.6 L249.8 116.8 L249.0 117.0 L248.2 117.3 L247.5 117.5 L246.7 117.7 L245.9 117.9 L245.1 118.2 L244.4 118.4 L243.6 118.6 L242.8 118.8 L242.1 119.1 L241.3 119.3 L240.5 119.5 L239.8 119.7 L239.0 120.0 L238.2 120.2 L237.4 120.4 L236.7 120.7 L235.9 120.9 L235.1 121.1 L234.4 121.4 L233.6 121.6 L232.8 121.8 L232.1 122.1 L231.3 122.3 L230.5 122.6 L229.8 122.8 L229.0 123.1 L228.3 123.3 L227.5 123.6 L226.7 123.8 L226.0 124.1 L225.2 124.3 L224.5 124.6 L223.7 124.8 L222.9 125.1 L222.2 125.3 L221.4 125.6 L220.7 125.9 L219.9 126.1 L219.2 126.4 L218.4 126.7 L217.6 126.9 L216.9 127.2 L216.1 127.4 L215.4 127.7 L214.6 128.0 L213.9 128.2 L213.1 128.5 L212.4 128.8 L211.6 129.0 L210.8 129.3 L210.1 129.6 L209.3 129.8 L208.6 130.1 L207.8 130.4 L207.1 130.6 L206.3 130.9 L205.6 131.2 L204.8 131.4 L204.1 131.7 L203.3 132.0 L202.5 132.2 L201.8 132.5 L201.0 132.7 L200.3 133.0 L199.5 133.2 L198.7 133.5 L198.0 133.7 L197.2 134.0 L196.5 134.2 L195.7 134.5 L194.9 134.7 L194.2 135.0 L193.4 135.2 L192.7 135.5 L191.9 135.7 L191.1 136.0 L190.4 136.2 L189.6 136.5 L188.9 136.7 L188.1 137.0 L187.3 137.2 L186.6 137.5 L185.8 137.8 L185.1 138.0 L184.3 138.3 L183.6 138.6 L182.8 138.9 L182.1 139.2 L181.4 139.5 L180.6 139.8 L179.9 140.1 L179.2 140.4 L178.4 140.7 L177.7 141.1 L177.0 141.4 L176.3 141.8 L175.6 142.1 L174.9 142.5 L174.1 142.8 L173.4 143.2 L172.8 143.6 L172.1 144.0 L171.4 144.4 L170.7 144.8 L170.0 145.2 L169.3 145.6 L168.7 146.1 L168.0 146.5 L167.3 146.9 L166.7 147.4 L166.0 147.8 L165.3 148.3 L164.7 148.8 L164.0 149.2 L163.4 149.7 L162.7 150.2 L162.1 150.7 L161.4 151.2 L160.8 151.7 L160.2 152.2 L159.5 152.7 L158.9 153.2 L158.3 153.7 L157.6 154.2 L157.0 154.7 L156.3 155.2 L155.7 155.7 L155.1 156.2 L154.4 156.7 L153.8 157.2 L153.2 157.7 L152.5 158.2 L151.9 158.7 L151.2 159.2 L150.6 159.7 L150.0 160.2 L149.3 160.7 L148.7 161.1 L148.0 161.6 L147.4 162.1 L146.7 162.6 L146.1 163.0 L145.4 163.5 L144.7 164.0 L144.1 164.4 L143.4 164.9 L142.7 165.3 L142.1 165.7 L141.4 166.2 L140.7 166.6 L140.0 167.0 L139.3 167.4 L138.6 167.8 L137.9 168.2 L137.2 168.6 L136.5 168.9 L135.8 169.3 L135.1 169.6 L134.4 170.0 L133.6 170.3 L132.9 170.6 L132.2 170.9 L131.4 171.2 L130.7 171.5 L129.9 171.8 L129.2 172.1 L128.4 172.3 L127.6 172.6 L126.9 172.8 L126.1 173.0 L125.3 173.2 L124.5 173.4 L123.8 173.6 L123.0 173.8 L122.2 174.0 L121.4 174.1 L120.6 174.3 L119.8 174.4 L119.0 174.5 L118.2 174.7 L117.4 174.8 L116.6 174.9 L115.8 174.9 L115.0 175.0 L114.2 175.1 L113.4 175.1 L112.6 175.2 L111.8 175.2 L111.0 175.2 L110.2 175.2 L109.4 175.2 L108.6 175.2 L107.8 175.2 L107.0 175.1 L106.2 175.1 L105.4 175.0 L104.6 174.9 L103.8 174.8 L103.0 174.7 L102.2 174.6 L101.4 174.5 L100.6 174.4 L99.8 174.2 L99.0 174.1 L98.2 173.9 L97.5 173.7 L96.7 173.6 L95.9 173.4 L95.1 173.1 L94.4 172.9 L93.6 172.7 L92.8 172.4 L92.1 172.2 L91.3 171.9 L90.6 171.7 L89.8 171.4 L89.1 171.1 L88.3 170.8 L87.6 170.5 L86.9 170.1 L86.1 169.8 L85.4 169.5 L84.7 169.1 L83.9 168.8 L83.2 168.4 L82.5 168.0 L81.8 167.6 L81.1 167.2 L80.4 166.8 L79.7 166.4 L79.0 166.0 L78.3 165.6 L77.6 165.2 L76.9 164.7 L76.3 164.3 L75.6 163.8 L74.9 163.4 L74.3 162.9 L73.6 162.4 L73.0 162.0 L72.3 161.5 L71.7 161.0 L71.0 160.5 L70.4 160.0 L69.7 159.5 L69.1 159.0 L68.5 158.5 L67.9 157.9 L67.3 157.4 L66.7 156.9 L66.1 156.4 L65.5 155.8 L64.9 155.3 L64.3 154.7 L63.7 154.2 L63.1 153.6 L62.6 153.1 L62.0 152.5 L61.4 151.9 L60.9 151.3 L60.3 150.8 L59.8 150.2" fill="none" stroke="#1a1ad2" stroke-width="1.7" stroke-linejoin="round" stroke-linecap="round"/>
<path d="M59.8 178.2 L60.1 177.4 L60.4 176.6 L60.7 175.9 L61.0 175.1 L61.4 174.3 L61.7 173.6 L62.1 172.8 L62.4 172.1 L62.8 171.4 L63.2 170.6 L63.6 169.9 L64.0 169.2 L64.4 168.5 L64.8 167.8 L65.2 167.1 L65.6 166.5 L66.1 165.8 L66.5 165.1 L67.0 164.5 L67.4 163.8 L67.9 163.2 L68.3 162.5 L68.8 161.9 L69.3 161.3 L69.8 160.6 L70.3 160.0 L70.8 159.4 L71.3 158.8 L71.9 158.2 L72.4 157.6 L72.9 157.0 L73.5 156.5 L74.0 155.9 L74.5 155.3 L75.1 154.7 L75.7 154.2 L76.2 153.6 L76.8 153.1 L77.4 152.6 L78.0 152.0 L78.6 151.5 L79.2 151.0 L79.8 150.5 L80.4 149.9 L81.0 149.4 L81.6 148.9 L82.2 148.4 L82.8 147.9 L83.5 147.5 L84.1 147.0 L84.7 146.5 L85.4 146.0 L86.0 145.6 L86.6 145.1 L87.3 144.6 L87.9 144.2 L88.6 143.7 L89.3 143.3 L89.9 142.9 L90.6 142.4 L91.3 142.0 L91.9 141.6 L92.6 141.1 L93.3 140.7 L94.0 140.3 L94.6 139.9 L95.3 139.5 L96.0 139.1 L96.7 138.7 L97.4 138.3 L98.1 137.9 L98.8 137.5 L99.5 137.1 L100.2 136.7 L100.9 136.4 L101.6 136.0 L102.3 135.6 L103.0 135.3 L103.7 134.9 L104.5 134.5 L105.2 134.2 L105.9 133.8 L106.6 133.5 L107.3 133.1 L108.1 132.8 L108.8 132.4 L109.5 132.1 L110.2 131.8 L111.0 131.4 L111.7 131.1 L112.4 130.8 L113.2 130.4 L113.9 130.1 L114.6 129.8 L115.4 129.5 L116.1 129.2 L116.9 128.8 L117.6 128.5 L118.4 128.2 L119.1 127.9 L119.9 127.6 L120.6 127.3 L121.4 127.0 L122.1 126.7 L122.9 126.4 L123.6 126.1 L124.4 125.8 L125.1 125.5 L125.9 125.2 L126.6 124.9 L127.4 124.6 L128.2 124.3 L128.9 124.1 L129.7 123.8 L130.4 123.5 L131.2 123.2 L132.0 122.9 L132.7 122.6 L133.5 122.4 L134.3 122.1 L135.0 121.8 L135.8 121.5 L136.5 121.3 L137.3 121.0 L138.1 120.7 L138.8 120.4 L139.6 120.2 L140.4 119.9 L141.1 119.6 L141.9 119.3 L142.7 119.1 L143.4 118.8 L144.2 118.5 L145.0 118.2 L145.7 118.0 L146.5 117.7 L147.3 117.4 L148.0 117.1 L148.8 116.9 L149.6 116.6 L150.3 116.3 L151.1 116.1 L151.9 115.8 L152.6 115.5 L153.4 115.2 L154.1 115.0 L154.9 114.7 L155.7 114.4 L156.4 114.1 L157.2 113.8 L157.9 113.6 L158.7 113.3 L159.5 113.0 L160.2 112.7 L161.0 112.4 L161.7 112.1 L162.5 111.8 L163.2 111.6 L164.0 111.3 L164.7 111.0 L165.5 110.7 L166.2 110.4 L167.0 110.1 L167.7 109.8 L168.5 109.5 L169.2 109.2 L169.9 108.9 L170.7 108.6 L171.4 108.2 L172.2 107.9 L172.9 107.6 L173.6 107.3 L174.3 107.0 L175.1 106.7 L175.8 106.3 L176.5 106.0 L177.2 105.7 L178.0 105.3 L178.7 105.0 L179.4 104.6 L180.1 104.3 L180.8 103.9 L181.5 103.6 L182.2 103.2 L183.0 102.9 L183.7 102.5 L184.4 102.2 L185.1 101.8 L185.8 101.4 L186.4 101.0 L187.1 100.6 L187.8 100.3 L188.5 99.9 L189.2 99.5 L189.9 99.1 L190.6 98.7 L191.2 98.3 L191.9 97.9 L192.6 97.4 L193.2 97.0 L193.9 96.6 L194.6 96.2 L195.2 95.7 L195.9 95.3 L196.5 94.8 L197.2 94.4 L197.8 93.9 L198.5 93.5 L199.1 93.0 L199.8 92.6 L200.4 92.1 L201.0 91.6 L201.7 91.1 L202.3 90.7 L202.9 90.2 L203.5 89.7 L204.2 89.2 L204.8 88.7 L205.4 88.2 L206.0 87.7 L206.6 87.2 L207.2 86.7 L207.9 86.2 L208.5 85.7 L209.1 85.1 L209.7 84.6 L210.3 84.1 L210.9 83.5 L211.5 83.0 L212.1 82.5 L212.6 81.9 L213.2 81.4 L213.8 80.8 L214.4 80.3 L215.0 79.7 L215.6 79.2 L216.1 78.6 L216.7 78.1 L217.3 77.5 L217.9 76.9 L218.5 76.4 L219.0 75.8 L219.6 75.2 L220.2 74.7 L220.7 74.1 L221.3 73.5 L221.9 72.9 L222.4 72.4 L223.0 71.8 L223.6 71.2 L224.1 70.6 L224.7 70.0 L225.2 69.4 L225.8 68.9 L226.4 68.3 L226.9 67.7 L227.5 67.1 L228.1 66.5 L228.6 65.9 L229.2 65.3 L229.7 64.8 L230.3 64.2 L230.9 63.6 L231.4 63.0 L232.0 62.4 L232.5 61.8 L233.1 61.2 L233.7 60.7 L234.2 60.1 L234.8 59.5 L235.4 58.9 L235.9 58.3 L236.5 57.8 L237.1 57.2 L237.6 56.6 L238.2 56.0 L238.8 55.5 L239.3 54.9 L239.9 54.3 L240.5 53.8 L241.1 53.2 L241.6 52.7 L242.2 52.1 L242.8 51.6 L243.4 51.0 L244.0 50.5 L244.6 49.9 L245.2 49.4 L245.7 48.9 L246.3 48.3 L246.9 47.8 L247.5 47.3 L248.1 46.8 L248.7 46.2 L249.3 45.7 L250.0 45.2 L250.6 44.7 L251.2 44.2 L251.8 43.7 L252.4 43.2 L253.0 42.7 L253.7 42.3 L254.3 41.8 L254.9 41.3 L255.6 40.8 L256.2 40.4 L256.8 39.9 L257.5 39.5 L258.1 39.0 L258.8 38.6 L259.5 38.2 L260.1 37.7 L260.8 37.3 L261.5 36.9 L262.1 36.5 L262.8 36.1 L263.5 35.7 L264.2 35.3 L264.9 34.9 L265.6 34.6 L266.2 34.2 L267.0 33.8 L267.7 33.5 L268.4 33.1 L269.1 32.8 L269.8 32.5 L270.5 32.1 L271.2 31.8 L272.0 31.5 L272.7 31.2 L273.4 30.9 L274.2 30.6 L274.9 30.3 L275.6 30.0 L276.4 29.7 L277.1 29.4 L277.9 29.2 L278.6 28.9 L279.4 28.6 L280.1 28.4 L280.9 28.1 L281.7 27.9 L282.4 27.7 L283.2 27.4 L284.0 27.2 L284.8 27.0 L285.5 26.8 L286.3 26.6 L287.1 26.4 L287.9 26.2 L288.7 26.0 L289.4 25.8 L290.2 25.6 L291.0 25.4 L291.8 25.3 L292.6 25.1 L293.4 24.9 L294.2 24.8 L295.0 24.6 L295.8 24.5 L296.6 24.4 L297.4 24.2 L298.2 24.1 L299.0 24.0 L299.8 23.9 L300.6 23.8 L301.4 23.6 L302.2 23.5 L303.0 23.4 L303.8 23.4 L304.6 23.3 L305.5 23.2 L306.3 23.1 L307.1 23.0 L307.9 23.0 L308.7 22.9 L309.5 22.8 L310.3 22.8 L311.1 22.7 L312.0 22.7 L312.8 22.6 L313.6 22.6 L314.4 22.5 L315.2 22.5 L316.0 22.5 L316.8 22.4 L317.6 22.4 L318.5 22.4 L319.3 22.4 L320.1 22.3 L320.9 22.3 L321.7 22.3 L322.5 22.3 L323.3 22.3 L324.1 22.3 L324.9 22.3 L325.7 22.3 L326.5 22.3 L327.3 22.3 L328.1 22.3 L328.9 22.3 L329.7 22.3 L330.5 22.3 L331.3 22.3 L332.1 22.4 L332.9 22.4 L333.7 22.4 L334.5 22.4 L335.3 22.4 L336.0 22.5 L336.8 22.5 L337.6 22.5" fill="none" stroke="#1f8a88" stroke-width="1.7" stroke-linejoin="round" stroke-linecap="round"/>
<path d="M337.6 22.5 L337.4 23.3 L337.2 24.0 L336.9 24.8 L336.7 25.6 L336.4 26.4 L336.2 27.1 L335.9 27.9 L335.7 28.6 L335.4 29.4 L335.1 30.2 L334.9 30.9 L334.6 31.7 L334.3 32.4 L334.0 33.2 L333.7 33.9 L333.4 34.7 L333.1 35.4 L332.8 36.1 L332.5 36.9 L332.2 37.6 L331.9 38.3 L331.5 39.1 L331.2 39.8 L330.9 40.5 L330.5 41.2 L330.2 42.0 L329.8 42.7 L329.5 43.4 L329.1 44.1 L328.7 44.8 L328.4 45.5 L328.0 46.2 L327.6 47.0 L327.2 47.7 L326.9 48.4 L326.5 49.1 L326.1 49.7 L325.7 50.4 L325.3 51.1 L324.8 51.8 L324.4 52.5 L324.0 53.2 L323.6 53.9 L323.2 54.5 L322.7 55.2 L322.3 55.9 L321.9 56.6 L321.4 57.2 L321.0 57.9 L320.5 58.6 L320.1 59.2 L319.6 59.9 L319.2 60.5 L318.7 61.2 L318.2 61.8 L317.7 62.5 L317.3 63.1 L316.8 63.8 L316.3 64.4 L315.8 65.0 L315.3 65.7 L314.8 66.3 L314.3 66.9 L313.8 67.6 L313.3 68.2 L312.8 68.8 L312.3 69.4 L311.8 70.0 L311.3 70.7 L310.7 71.3 L310.2 71.9 L309.7 72.5 L309.1 73.1 L308.6 73.7 L308.1 74.3 L307.5 74.9 L307.0 75.4 L306.4 76.0 L305.9 76.6 L305.3 77.2 L304.7 77.8 L304.2 78.4 L303.6 78.9 L303.0 79.5 L302.5 80.1 L301.9 80.6 L301.3 81.2 L300.7 81.7 L300.1 82.3 L299.6 82.8 L299.0 83.4 L298.4 83.9 L297.8 84.5 L297.2 85.0 L296.6 85.6 L296.0 86.1 L295.4 86.6 L294.8 87.1 L294.1 87.7 L293.5 88.2 L292.9 88.7 L292.3 89.2 L291.7 89.7 L291.0 90.2 L290.4 90.7 L289.8 91.2 L289.2 91.7 L288.5 92.2 L287.9 92.7 L287.2 93.2 L286.6 93.7 L286.0 94.2 L285.3 94.7 L284.7 95.1 L284.0 95.6 L283.4 96.1 L282.7 96.5 L282.1 97.0 L281.4 97.5 L280.7 97.9 L280.1 98.4 L279.4 98.8 L278.7 99.3 L278.1 99.7 L277.4 100.1 L276.7 100.6 L276.0 101.0 L275.4 101.4 L274.7 101.9 L274.0 102.3 L273.3 102.7 L272.6 103.1 L272.0 103.5 L271.3 104.0 L270.6 104.4 L269.9 104.8 L269.2 105.2 L268.5 105.6 L267.8 106.0 L267.1 106.4 L266.4 106.8 L265.7 107.1 L265.0 107.5 L264.3 107.9 L263.6 108.3 L262.9 108.7 L262.2 109.1 L261.5 109.4 L260.8 109.8 L260.1 110.2 L259.4 110.5 L258.6 110.9 L257.9 111.3 L257.2 111.6 L256.5 112.0 L255.8 112.3 L255.1 112.7 L254.3 113.0 L253.6 113.4 L252.9 113.7 L252.2 114.1 L251.5 114.4 L250.7 114.8 L250.0 115.1 L249.3 115.5 L248.5 115.8 L247.8 116.1 L247.1 116.5 L246.4 116.8 L245.6 117.1 L244.9 117.5 L244.2 117.8 L243.4 118.1 L242.7 118.5 L242.0 118.8 L241.2 119.1 L240.5 119.4 L239.8 119.8 L239.0 120.1 L238.3 120.4 L237.6 120.7 L236.8 121.0 L236.1 121.4 L235.3 121.7 L234.6 122.0 L233.9 122.3 L233.1 122.6 L232.4 122.9 L231.7 123.2 L230.9 123.6 L230.2 123.9 L229.4 124.2 L228.7 124.5 L228.0 124.8 L227.2 125.1 L226.5 125.4 L225.7 125.7 L225.0 126.1 L224.3 126.4 L223.5 126.7 L222.8 127.0 L222.1 127.3 L221.3 127.7 L220.6 128.0 L219.9 128.3 L219.1 128.7 L218.4 129.0 L217.7 129.3 L217.0 129.7 L216.2 130.0 L215.5 130.4 L214.8 130.7 L214.1 131.1 L213.4 131.4 L212.6 131.8 L211.9 132.2 L211.2 132.5 L210.5 132.9 L209.8 133.3 L209.1 133.7 L208.4 134.1 L207.7 134.5 L207.0 134.9 L206.3 135.3 L205.6 135.7 L204.9 136.1 L204.2 136.5 L203.5 136.9 L202.8 137.3 L202.1 137.7 L201.4 138.0 L200.7 138.4 L199.9 138.7 L199.2 139.0 L198.5 139.3 L197.7 139.5 L197.0 139.8 L196.2 140.0 L195.4 140.3 L194.7 140.5 L193.9 140.7 L193.1 140.9 L192.3 141.1 L191.6 141.3 L190.8 141.5 L190.0 141.7 L189.2 141.9 L188.5 142.1 L187.7 142.3 L186.9 142.5 L186.1 142.8 L185.4 143.0 L184.6 143.3 L183.9 143.5 L183.1 143.8 L182.4 144.1 L181.6 144.4 L180.9 144.7 L180.2 145.0 L179.4 145.3 L178.7 145.7 L178.0 146.0 L177.3 146.3 L176.5 146.7 L175.8 147.1 L175.1 147.4 L174.4 147.8 L173.7 148.2 L173.0 148.6 L172.3 149.0 L171.6 149.4 L170.9 149.8 L170.3 150.2 L169.6 150.7 L168.9 151.1 L168.2 151.5 L167.6 152.0 L166.9 152.4 L166.2 152.9 L165.6 153.3 L164.9 153.8 L164.2 154.3 L163.6 154.7 L162.9 155.2 L162.3 155.7 L161.6 156.2 L161.0 156.6 L160.4 157.1 L159.7 157.6 L159.1 158.1 L158.4 158.6 L157.8 159.1 L157.2 159.6 L156.5 160.1 L155.9 160.6 L155.3 161.0 L154.7 161.5 L154.0 162.0 L153.4 162.5 L152.8 163.0 L152.1 163.5 L151.5 164.0 L150.9 164.5 L150.2 165.0 L149.6 165.5 L149.0 166.0 L148.3 166.5 L147.7 167.0 L147.1 167.5 L146.4 168.0 L145.8 168.5 L145.2 169.0 L144.5 169.5 L143.9 169.9 L143.2 170.4 L142.6 170.9 L141.9 171.4 L141.3 171.8 L140.6 172.3 L140.0 172.8 L139.3 173.2 L138.6 173.7 L138.0 174.1 L137.3 174.6 L136.6 175.0 L136.0 175.4 L135.3 175.9 L134.6 176.3 L133.9 176.7 L133.2 177.1 L132.5 177.5 L131.8 177.9 L131.1 178.3 L130.4 178.7 L129.7 179.1 L128.9 179.5 L128.2 179.8 L127.5 180.2 L126.8 180.6 L126.1 180.9 L125.3 181.3 L124.6 181.6 L123.8 181.9 L123.1 182.3 L122.4 182.6 L121.6 182.9 L120.9 183.2 L120.1 183.5 L119.4 183.8 L118.6 184.1 L117.8 184.4 L117.1 184.6 L116.3 184.9 L115.6 185.2 L114.8 185.4 L114.0 185.7 L113.3 185.9 L112.5 186.1 L111.7 186.3 L110.9 186.5 L110.2 186.7 L109.4 186.9 L108.6 187.1 L107.8 187.3 L107.0 187.5 L106.3 187.6 L105.5 187.8 L104.7 187.9 L103.9 188.1 L103.1 188.2 L102.3 188.3 L101.6 188.4 L100.8 188.5 L100.0 188.6 L99.2 188.7 L98.4 188.8 L97.6 188.8 L96.8 188.9 L96.0 188.9 L95.3 189.0 L94.5 189.0 L93.7 189.0 L92.9 189.0 L92.1 189.0 L91.3 189.0 L90.5 188.9 L89.8 188.9 L89.0 188.9 L88.2 188.8 L87.4 188.7 L86.6 188.7 L85.8 188.6 L85.1 188.5 L84.3 188.4 L83.5 188.3 L82.7 188.1 L82.0 188.0 L81.2 187.8 L80.4 187.7 L79.6 187.5 L78.9 187.3 L78.1 187.1 L77.4 186.9 L76.6 186.7 L75.8 186.4 L75.1 186.2 L74.3 185.9 L73.6 185.7 L72.8 185.4 L72.1 185.1 L71.3 184.8 L70.6 184.5 L69.8 184.1 L69.1 183.8 L68.4 183.5 L67.6 183.1 L66.9 182.7 L66.2 182.3 L65.5 181.9 L64.7 181.5 L64.0 181.1 L63.3 180.6 L62.6 180.2 L61.9 179.7 L61.2 179.2 L60.5 178.7 L59.8 178.2" fill="none" stroke="#1f8a88" stroke-width="1.7" stroke-linejoin="round" stroke-linecap="round"/>
<polyline points="59.8,150 73.2,161.9" fill="none" stroke="#1a1ad2" stroke-width="2.5" stroke-linejoin="round"/>
</g>
<line x1="59" y1="212.5" x2="338.5" y2="212.5" stroke="#2a2a2a" stroke-width="1"/>
<line x1="59.5" y1="8" x2="59.5" y2="213" stroke="#2a2a2a" stroke-width="1"/>
<line x1="59" y1="8.5" x2="338.5" y2="8.5" stroke="#3a3a3a" stroke-width="1"/>
<line x1="338" y1="8" x2="338" y2="213" stroke="#3a3a3a" stroke-width="1"/>
<line x1="55.1" y1="8.7" x2="59.5" y2="8.7" stroke="#2a2a2a" stroke-width="1"/>
<line x1="55.1" y1="42.65" x2="59.5" y2="42.65" stroke="#2a2a2a" stroke-width="1"/>
<line x1="55.1" y1="76.6" x2="59.5" y2="76.6" stroke="#2a2a2a" stroke-width="1"/>
<line x1="55.1" y1="110.55" x2="59.5" y2="110.55" stroke="#2a2a2a" stroke-width="1"/>
<line x1="55.1" y1="144.5" x2="59.5" y2="144.5" stroke="#2a2a2a" stroke-width="1"/>
<line x1="55.1" y1="178.45" x2="59.5" y2="178.45" stroke="#2a2a2a" stroke-width="1"/>
<line x1="55.1" y1="212.4" x2="59.5" y2="212.4" stroke="#2a2a2a" stroke-width="1"/>
<line x1="57.1" y1="25.68" x2="59.5" y2="25.68" stroke="#2a2a2a" stroke-width="1"/>
<line x1="57.1" y1="59.63" x2="59.5" y2="59.63" stroke="#2a2a2a" stroke-width="1"/>
<line x1="57.1" y1="93.58" x2="59.5" y2="93.58" stroke="#2a2a2a" stroke-width="1"/>
<line x1="57.1" y1="127.52" x2="59.5" y2="127.52" stroke="#2a2a2a" stroke-width="1"/>
<line x1="57.1" y1="161.47" x2="59.5" y2="161.47" stroke="#2a2a2a" stroke-width="1"/>
<line x1="57.1" y1="195.42" x2="59.5" y2="195.42" stroke="#2a2a2a" stroke-width="1"/>
<line x1="59.6" y1="212.5" x2="59.6" y2="216.5" stroke="#2a2a2a" stroke-width="1"/>
<line x1="99.4" y1="212.5" x2="99.4" y2="216.5" stroke="#2a2a2a" stroke-width="1"/>
<line x1="139.2" y1="212.5" x2="139.2" y2="216.5" stroke="#2a2a2a" stroke-width="1"/>
<line x1="179" y1="212.5" x2="179" y2="216.5" stroke="#2a2a2a" stroke-width="1"/>
<line x1="218.8" y1="212.5" x2="218.8" y2="216.5" stroke="#2a2a2a" stroke-width="1"/>
<line x1="258.6" y1="212.5" x2="258.6" y2="216.5" stroke="#2a2a2a" stroke-width="1"/>
<line x1="298.4" y1="212.5" x2="298.4" y2="216.5" stroke="#2a2a2a" stroke-width="1"/>
<line x1="338.2" y1="212.5" x2="338.2" y2="216.5" stroke="#2a2a2a" stroke-width="1"/>
<line x1="79.5" y1="212.5" x2="79.5" y2="214.4" stroke="#2a2a2a" stroke-width="1"/>
<line x1="119.3" y1="212.5" x2="119.3" y2="214.4" stroke="#2a2a2a" stroke-width="1"/>
<line x1="159.1" y1="212.5" x2="159.1" y2="214.4" stroke="#2a2a2a" stroke-width="1"/>
<line x1="198.9" y1="212.5" x2="198.9" y2="214.4" stroke="#2a2a2a" stroke-width="1"/>
<line x1="238.7" y1="212.5" x2="238.7" y2="214.4" stroke="#2a2a2a" stroke-width="1"/>
<line x1="278.5" y1="212.5" x2="278.5" y2="214.4" stroke="#2a2a2a" stroke-width="1"/>
<line x1="318.3" y1="212.5" x2="318.3" y2="214.4" stroke="#2a2a2a" stroke-width="1"/>
<text transform="translate(40.14 12.2) scale(0.8850 1)" font-size="12.2" fill="#222">45</text>
<text transform="translate(40.1 46.15) scale(0.8850 1)" font-size="12.2" fill="#222">30</text>
<text transform="translate(40.14 80.1) scale(0.8850 1)" font-size="12.2" fill="#222">15</text>
<text transform="translate(46.11 114.05) scale(0.8850 1)" font-size="12.2" fill="#222">0</text>
<text transform="translate(36.54 148) scale(0.8850 1)" font-size="12.2" fill="#222">-15</text>
<text transform="translate(36.51 181.95) scale(0.8850 1)" font-size="12.2" fill="#222">-30</text>
<text transform="translate(36.54 215.9) scale(0.8850 1)" font-size="12.2" fill="#222">-45</text>
<text transform="translate(50.33 229.8) scale(0.8850 1)" font-size="12.2" fill="#222">-0.2</text>
<text transform="translate(90.12 229.8) scale(0.8850 1)" font-size="12.2" fill="#222">-0.1</text>
<text transform="translate(131.69 229.8) scale(0.8850 1)" font-size="12.2" fill="#222">0.0</text>
<text transform="translate(171.54 229.8) scale(0.8850 1)" font-size="12.2" fill="#222">0.1</text>
<text transform="translate(211.36 229.8) scale(0.8850 1)" font-size="12.2" fill="#222">0.2</text>
<text transform="translate(251.12 229.8) scale(0.8850 1)" font-size="12.2" fill="#222">0.3</text>
<text transform="translate(290.84 229.8) scale(0.8850 1)" font-size="12.2" fill="#222">0.4</text>
<text transform="translate(330.71 229.8) scale(0.8850 1)" font-size="12.2" fill="#222">0.5</text>
<text transform="translate(149.34 250.9) scale(0.8562 1)" font-size="12.2" fill="#222">Potential (V vs. SCE)</text>
<text transform="translate(20.9 125.72) rotate(-90) scale(0.8672 1)" font-size="12.2" fill="#222">A g</text>
<text transform="translate(13.6 109.64) rotate(-90) scale(0.8365 1)" font-size="6.6" fill="#222">-1</text>
<text transform="translate(275.52 151.3) scale(0.8798 1)" font-size="11.7" fill="#222">1—5 mV s</text>
<text transform="translate(323.56 145) scale(0.8365 1)" font-size="6.6" fill="#222">-1</text>
<text transform="translate(274.27 169.4) scale(0.8999 1)" font-size="11.7" fill="#222">2—10 mV s</text>
<text transform="translate(329.26 163.1) scale(0.8365 1)" font-size="6.6" fill="#222">-1</text>
<text transform="translate(274.4 187.6) scale(0.8979 1)" font-size="11.7" fill="#222">3—20 mV s</text>
<text transform="translate(329.26 181.3) scale(0.8365 1)" font-size="6.6" fill="#222">-1</text>
<text transform="translate(274.57 205.8) scale(0.8951 1)" font-size="11.7" fill="#222">4—30 mV s</text>
<text transform="translate(329.26 199.5) scale(0.8365 1)" font-size="6.6" fill="#222">-1</text>
<text transform="translate(136.13 137.7) scale(0.7583 1)" font-size="11.6" fill="#222">1</text>
<text transform="translate(119.12 153.1) scale(1.0020 1)" font-size="11.6" fill="#222">2</text>
<text transform="translate(100.88 170.9) scale(0.9619 1)" font-size="11.6" fill="#222">3</text>
<text transform="translate(84.87 186.1) scale(0.9047 1)" font-size="11.6" fill="#222">4</text>
<text transform="translate(2.51 19.6) scale(1.0349 1)" font-size="19.6" font-weight="bold" fill="#000">(a)</text>
<g clip-path="url(#cb)">
<path d="M398.7 212.4 C398.7 204.93 398.72 197.06 398.7 190 C398.68 183.67 398.54 176.32 398.6 172 C398.64 169.57 398.62 167.81 398.8 166.3 C398.92 165.29 399.13 164.83 399.3 163.8 C399.56 162.18 399.59 159.53 400.1 157.5 C400.6 155.5 401.27 153.57 402.3 151.7 C403.42 149.66 404.96 147.4 406.7 145.8 C408.38 144.26 410.38 143.15 412.5 142.2 C414.76 141.19 418.14 140.73 419.9 140 C420.95 139.57 421.14 139.21 422.3 138.7 C424.96 137.52 431.65 135.58 435.9 133.9 C439.76 132.37 443.32 130.84 446.8 129.1 C450.14 127.43 453.47 125.42 456.4 123.7 C458.93 122.21 460.62 120.7 463.4 119.4 C467.01 117.71 472.13 116.45 476.5 115 C480.86 113.55 485.95 112.38 489.6 110.7 C492.47 109.38 494.91 108.1 496.9 106.3 C498.75 104.62 499.96 102.73 501.3 100.4 C502.95 97.54 504.23 93.6 505.7 90.2 C507.17 86.8 508.49 84.16 510.1 80 C512.54 73.7 515.94 63.48 518.4 55.9 C520.57 49.21 522.42 42.64 524.2 36.9 C525.68 32.13 526.93 28.17 528.3 23.8" fill="none" stroke="#111" stroke-width="1.7" stroke-linejoin="round" stroke-linecap="round"/>
<path d="M528.3 23.8 C528.8 26.7 529.22 28.99 529.8 32.5 C530.69 37.89 531.92 45.69 533 53 C534.24 61.38 535.54 72.54 536.8 80 C537.7 85.32 538.44 88.87 539.5 93.6 C540.67 98.82 541.93 104.83 543.6 110 C545.16 114.83 547.17 119.43 549.1 123.7 C550.85 127.58 552.73 131.45 554.6 134.6 C556.14 137.19 557.36 139.8 559.3 141.4 C561.06 142.85 563.19 143.25 565.5 144.1 C568.3 145.13 571.86 145.92 575 147 C578.16 148.09 581.31 149.23 584.4 150.6 C587.54 151.99 590.39 153.54 593.7 155.3 C597.58 157.37 601.98 160.2 606.2 162.3 C610.32 164.35 614.67 166.06 618.7 167.8 C622.45 169.42 626.29 170.88 629.6 172.4 C632.44 173.71 635.04 174.71 637.4 176.3 C639.7 177.85 641.81 179.65 643.6 181.8 C645.47 184.05 646.9 186.82 648.3 189.6 C649.78 192.54 651.09 195.54 652.2 199 C653.49 203.02 654.27 207.93 655.3 212.4" fill="none" stroke="#111" stroke-width="1.7" stroke-linejoin="round" stroke-linecap="round"/>
<path d="M398.3 188.2 C398.37 183.8 398.43 179.1 398.5 175 C398.56 171.44 398.63 168.17 398.7 165 C398.76 162.13 398.72 159.53 398.9 156.8 C399.08 154.06 399.29 151.09 399.8 148.6 C400.24 146.45 400.77 144.48 401.6 142.7 C402.37 141.04 403.27 139.5 404.5 138.2 C405.78 136.85 407.57 136.06 409.2 134.8 C411.05 133.36 412.83 131.98 415 130 C418.08 127.19 422.28 122.5 425.7 119.3 C428.67 116.52 431.64 114.09 434.3 111.8 C436.58 109.84 439.05 108.34 440.7 106.4 C442.12 104.73 442.99 102.91 443.9 101.1 C444.78 99.34 445.46 97.51 446.1 95.7 C446.72 93.94 447.25 92.19 447.7 90.4 C448.15 88.62 448.4 86.92 448.8 85 C449.26 82.82 449.72 80.88 450.3 78 C451.23 73.4 452.6 67.05 453.7 60 C455.26 50.06 456.7 35.93 458.2 23.9" fill="none" stroke="#dd2a2a" stroke-width="1.7" stroke-linejoin="round" stroke-linecap="round"/>
<path d="M458.2 23.9 C459.43 42.6 460.84 67.37 461.9 80 C462.44 86.45 462.87 89.24 463.4 94.6 C464.05 101.16 464.69 109.95 465.5 116.5 C466.16 121.87 466.65 126.89 467.7 131.1 C468.53 134.45 469.66 137.2 470.8 139.9 C471.82 142.32 472.48 144.61 474.1 146.6 C475.92 148.84 479 150.31 481.5 152.4 C484.22 154.68 487.1 157.13 489.8 159.8 C492.64 162.61 495.26 166.08 498.1 168.9 C500.8 171.59 504.1 173.86 506.4 176.4 C508.37 178.57 509.98 180.46 511.3 183 C512.79 185.86 513.71 188.99 514.6 192.9 C515.82 198.26 516.27 205.9 517.1 212.4" fill="none" stroke="#dd2a2a" stroke-width="1.7" stroke-linejoin="round" stroke-linecap="round"/>
<path d="M398.6 140 C398.7 138.57 398.74 137.3 398.9 135.7 C399.1 133.65 399.25 131.17 399.8 128.7 C400.45 125.79 401.72 122.5 402.8 119.4 C403.89 116.26 405.23 112.69 406.3 110 C407.12 107.94 407.75 106.73 408.6 104.6 C409.8 101.59 411.62 97.51 412.7 93.6 C413.87 89.35 414.44 86.1 415.2 80 C416.73 67.69 417.67 42.6 418.9 23.9" fill="none" stroke="#1a1ad2" stroke-width="1.7" stroke-linejoin="round" stroke-linecap="round"/>
<path d="M418.9 23.9 C419.07 44.27 418.98 69.86 419.4 85 C419.65 93.97 420.04 99.77 420.4 106.4 C420.71 112.15 421.06 117.02 421.4 122.5 C421.76 128.21 422.1 134.91 422.5 140 C422.81 143.95 422.8 147.22 423.5 150.5 C424.15 153.52 425.27 156.06 426.4 159 C427.66 162.27 429.41 165.55 430.8 169.2 C432.36 173.29 434.05 177.96 435.2 182.4 C436.33 186.76 437.09 190.92 437.7 195.6 C438.38 200.84 438.5 206.8 438.9 212.4" fill="none" stroke="#1a1ad2" stroke-width="1.7" stroke-linejoin="round" stroke-linecap="round"/>
<path d="M398.6 132 C398.63 128.57 398.59 125.24 398.7 121.7 C398.82 117.92 398.97 113.69 399.3 110 C399.6 106.66 400.01 104.27 400.5 100.5 C401.21 94.96 402.38 88.54 403.2 80 C404.55 65.93 405.47 42.6 406.6 23.9" fill="none" stroke="#1f8a88" stroke-width="1.7" stroke-linejoin="round" stroke-linecap="round"/>
<path d="M406.6 23.9 C406.73 51.7 406.73 87.07 407 107.3 C407.15 118.88 407.19 127.64 407.6 134.6 C407.85 138.93 408.38 141.19 408.6 145.1 C408.88 150.04 408.55 155.93 408.9 161.9 C409.3 168.75 410.32 176.99 411.1 183.9 C411.8 190.07 412.72 196.24 413.3 201.4 C413.76 205.49 414.03 208.73 414.4 212.4" fill="none" stroke="#1f8a88" stroke-width="1.7" stroke-linejoin="round" stroke-linecap="round"/>
</g>
<line x1="398" y1="212.5" x2="677" y2="212.5" stroke="#454545" stroke-width="1"/>
<line x1="398.5" y1="8" x2="398.5" y2="213" stroke="#454545" stroke-width="1"/>
<line x1="398" y1="8.5" x2="677" y2="8.5" stroke="#3a3a3a" stroke-width="1"/>
<line x1="676.5" y1="8" x2="676.5" y2="213" stroke="#3a3a3a" stroke-width="1"/>
<line x1="394.1" y1="212.4" x2="398.5" y2="212.4" stroke="#454545" stroke-width="1"/>
<line x1="394.1" y1="161.45" x2="398.5" y2="161.45" stroke="#454545" stroke-width="1"/>
<line x1="394.1" y1="110.5" x2="398.5" y2="110.5" stroke="#454545" stroke-width="1"/>
<line x1="394.1" y1="59.55" x2="398.5" y2="59.55" stroke="#454545" stroke-width="1"/>
<line x1="394.1" y1="8.6" x2="398.5" y2="8.6" stroke="#454545" stroke-width="1"/>
<line x1="396.1" y1="186.93" x2="398.5" y2="186.93" stroke="#454545" stroke-width="1"/>
<line x1="396.1" y1="135.97" x2="398.5" y2="135.97" stroke="#454545" stroke-width="1"/>
<line x1="396.1" y1="85.03" x2="398.5" y2="85.03" stroke="#454545" stroke-width="1"/>
<line x1="396.1" y1="34.08" x2="398.5" y2="34.08" stroke="#454545" stroke-width="1"/>
<line x1="398" y1="212.5" x2="398" y2="216.5" stroke="#454545" stroke-width="1"/>
<line x1="435.09" y1="212.5" x2="435.09" y2="216.5" stroke="#454545" stroke-width="1"/>
<line x1="472.18" y1="212.5" x2="472.18" y2="216.5" stroke="#454545" stroke-width="1"/>
<line x1="509.27" y1="212.5" x2="509.27" y2="216.5" stroke="#454545" stroke-width="1"/>
<line x1="546.36" y1="212.5" x2="546.36" y2="216.5" stroke="#454545" stroke-width="1"/>
<line x1="583.45" y1="212.5" x2="583.45" y2="216.5" stroke="#454545" stroke-width="1"/>
<line x1="620.54" y1="212.5" x2="620.54" y2="216.5" stroke="#454545" stroke-width="1"/>
<line x1="657.63" y1="212.5" x2="657.63" y2="216.5" stroke="#454545" stroke-width="1"/>
<line x1="416.55" y1="212.5" x2="416.55" y2="214.4" stroke="#454545" stroke-width="1"/>
<line x1="453.63" y1="212.5" x2="453.63" y2="214.4" stroke="#454545" stroke-width="1"/>
<line x1="490.73" y1="212.5" x2="490.73" y2="214.4" stroke="#454545" stroke-width="1"/>
<line x1="527.82" y1="212.5" x2="527.82" y2="214.4" stroke="#454545" stroke-width="1"/>
<line x1="564.9" y1="212.5" x2="564.9" y2="214.4" stroke="#454545" stroke-width="1"/>
<line x1="602" y1="212.5" x2="602" y2="214.4" stroke="#454545" stroke-width="1"/>
<line x1="639.09" y1="212.5" x2="639.09" y2="214.4" stroke="#454545" stroke-width="1"/>
<line x1="676.17" y1="212.5" x2="676.17" y2="214.4" stroke="#454545" stroke-width="1"/>
<text transform="translate(376.1 216) scale(0.8850 1)" font-size="12.2" fill="#222">0.0</text>
<text transform="translate(376.21 165.05) scale(0.8850 1)" font-size="12.2" fill="#222">0.1</text>
<text transform="translate(376.23 114.1) scale(0.8850 1)" font-size="12.2" fill="#222">0.2</text>
<text transform="translate(376.16 63.15) scale(0.8850 1)" font-size="12.2" fill="#222">0.3</text>
<text transform="translate(376.01 12.2) scale(0.8850 1)" font-size="12.2" fill="#222">0.4</text>
<text transform="translate(394.99 230) scale(0.8850 1)" font-size="12.2" fill="#222">0</text>
<text transform="translate(426.02 230) scale(0.8850 1)" font-size="12.2" fill="#222">200</text>
<text transform="translate(463.26 230) scale(0.8850 1)" font-size="12.2" fill="#222">400</text>
<text transform="translate(500.2 230) scale(0.8850 1)" font-size="12.2" fill="#222">600</text>
<text transform="translate(537.33 230) scale(0.8850 1)" font-size="12.2" fill="#222">800</text>
<text transform="translate(571.24 230) scale(0.8850 1)" font-size="12.2" fill="#222">1000</text>
<text transform="translate(608.33 230) scale(0.8850 1)" font-size="12.2" fill="#222">1200</text>
<text transform="translate(645.42 230) scale(0.8850 1)" font-size="12.2" fill="#222">1400</text>
<text transform="translate(518.47 250.8) scale(0.8671 1)" font-size="12.2" fill="#222">Time (s)</text>
<text transform="translate(359.8 163.76) rotate(-90) scale(0.8633 1)" font-size="12.2" fill="#222">Potential (V vs. SCE)</text>
<text transform="translate(623.58 59.7) scale(0.9101 1)" font-size="11.8" fill="#222">1—1 A g</text>
<text transform="translate(663.94 54.2) scale(0.9125 1)" font-size="6.6" fill="#222">-1</text>
<text transform="translate(623.36 77.8) scale(0.9152 1)" font-size="11.8" fill="#222">2—2 A g</text>
<text transform="translate(663.94 72.3) scale(0.9125 1)" font-size="6.6" fill="#222">-1</text>
<text transform="translate(623.49 96.2) scale(0.9122 1)" font-size="11.8" fill="#222">3—5 A g</text>
<text transform="translate(663.94 90.8) scale(0.9125 1)" font-size="6.6" fill="#222">-1</text>
<text transform="translate(623.67 114.6) scale(0.8991 1)" font-size="11.8" fill="#222">4—10 A g</text>
<text transform="translate(669.66 107.4) scale(0.8365 1)" font-size="6.6" fill="#222">-1</text>
<text transform="translate(416.97 211.3) scale(0.9047 1)" font-size="11.6" fill="#222">4</text>
<text transform="translate(442.09 211.3) scale(0.9256 1)" font-size="11.6" fill="#222">3</text>
<text transform="translate(522.02 211.2) scale(1.0020 1)" font-size="11.6" fill="#222">2</text>
<text transform="translate(659.42 211.4) scale(0.6585 1)" font-size="11.6" fill="#222">1</text>
<text transform="translate(345.07 21) scale(1.0689 1)" font-size="19.6" font-weight="bold" fill="#000">(b)</text>
<line x1="60" y1="466.5" x2="339.5" y2="466.5" stroke="#2a2a2a" stroke-width="1"/>
<line x1="60.5" y1="262" x2="60.5" y2="467" stroke="#2a2a2a" stroke-width="1"/>
<line x1="60" y1="262.5" x2="339.5" y2="262.5" stroke="#3a3a3a" stroke-width="1"/>
<line x1="339" y1="262" x2="339" y2="467" stroke="#3a3a3a" stroke-width="1"/>
<line x1="56.1" y1="466.4" x2="60.5" y2="466.4" stroke="#2a2a2a" stroke-width="1"/>
<line x1="56.1" y1="425.62" x2="60.5" y2="425.62" stroke="#2a2a2a" stroke-width="1"/>
<line x1="56.1" y1="384.84" x2="60.5" y2="384.84" stroke="#2a2a2a" stroke-width="1"/>
<line x1="56.1" y1="344.06" x2="60.5" y2="344.06" stroke="#2a2a2a" stroke-width="1"/>
<line x1="56.1" y1="303.28" x2="60.5" y2="303.28" stroke="#2a2a2a" stroke-width="1"/>
<line x1="56.1" y1="262.5" x2="60.5" y2="262.5" stroke="#2a2a2a" stroke-width="1"/>
<line x1="58.1" y1="446.01" x2="60.5" y2="446.01" stroke="#2a2a2a" stroke-width="1"/>
<line x1="58.1" y1="405.23" x2="60.5" y2="405.23" stroke="#2a2a2a" stroke-width="1"/>
<line x1="58.1" y1="364.45" x2="60.5" y2="364.45" stroke="#2a2a2a" stroke-width="1"/>
<line x1="58.1" y1="323.67" x2="60.5" y2="323.67" stroke="#2a2a2a" stroke-width="1"/>
<line x1="58.1" y1="282.89" x2="60.5" y2="282.89" stroke="#2a2a2a" stroke-width="1"/>
<line x1="60.4" y1="466.5" x2="60.4" y2="470.5" stroke="#2a2a2a" stroke-width="1"/>
<line x1="111.1" y1="466.5" x2="111.1" y2="470.5" stroke="#2a2a2a" stroke-width="1"/>
<line x1="161.8" y1="466.5" x2="161.8" y2="470.5" stroke="#2a2a2a" stroke-width="1"/>
<line x1="212.5" y1="466.5" x2="212.5" y2="470.5" stroke="#2a2a2a" stroke-width="1"/>
<line x1="263.2" y1="466.5" x2="263.2" y2="470.5" stroke="#2a2a2a" stroke-width="1"/>
<line x1="313.9" y1="466.5" x2="313.9" y2="470.5" stroke="#2a2a2a" stroke-width="1"/>
<line x1="85.75" y1="466.5" x2="85.75" y2="468.4" stroke="#2a2a2a" stroke-width="1"/>
<line x1="136.45" y1="466.5" x2="136.45" y2="468.4" stroke="#2a2a2a" stroke-width="1"/>
<line x1="187.15" y1="466.5" x2="187.15" y2="468.4" stroke="#2a2a2a" stroke-width="1"/>
<line x1="237.85" y1="466.5" x2="237.85" y2="468.4" stroke="#2a2a2a" stroke-width="1"/>
<line x1="288.55" y1="466.5" x2="288.55" y2="468.4" stroke="#2a2a2a" stroke-width="1"/>
<line x1="339.25" y1="466.5" x2="339.25" y2="468.4" stroke="#2a2a2a" stroke-width="1"/>
<text transform="translate(29.83 470.2) scale(0.8650 1)" font-size="12.2" fill="#222">1000</text>
<text transform="translate(29.83 429.42) scale(0.8650 1)" font-size="12.2" fill="#222">1200</text>
<text transform="translate(29.83 388.64) scale(0.8650 1)" font-size="12.2" fill="#222">1400</text>
<text transform="translate(29.83 347.86) scale(0.8650 1)" font-size="12.2" fill="#222">1600</text>
<text transform="translate(29.83 307.08) scale(0.8650 1)" font-size="12.2" fill="#222">1800</text>
<text transform="translate(29.83 266.3) scale(0.8650 1)" font-size="12.2" fill="#222">2000</text>
<text transform="translate(57.39 483.6) scale(0.8850 1)" font-size="12.2" fill="#222">0</text>
<text transform="translate(108.1 483.6) scale(0.8850 1)" font-size="12.2" fill="#222">2</text>
<text transform="translate(158.84 483.6) scale(0.8850 1)" font-size="12.2" fill="#222">4</text>
<text transform="translate(209.46 483.6) scale(0.8850 1)" font-size="12.2" fill="#222">6</text>
<text transform="translate(260.2 483.6) scale(0.8850 1)" font-size="12.2" fill="#222">8</text>
<text transform="translate(307.69 483.6) scale(0.8850 1)" font-size="12.2" fill="#222">10</text>
<polyline points="85.8,293.8 111.1,308.1 187,367.1 263.1,405.4 313.7,433.9" fill="none" stroke="#6a1ec8" stroke-width="2" stroke-linejoin="round"/>
<circle cx="85.8" cy="293.8" r="4.6" fill="#fff" stroke="#5c3c6c" stroke-width="1.1"/>
<circle cx="111.1" cy="308.1" r="4.6" fill="#fff" stroke="#5c3c6c" stroke-width="1.1"/>
<circle cx="187" cy="367.1" r="4.6" fill="#fff" stroke="#5c3c6c" stroke-width="1.1"/>
<circle cx="263.1" cy="405.4" r="4.6" fill="#fff" stroke="#5c3c6c" stroke-width="1.1"/>
<circle cx="313.7" cy="433.9" r="4.6" fill="#fff" stroke="#5c3c6c" stroke-width="1.1"/>
<text transform="translate(189.08 507) scale(0.8850 1)" font-size="12.2" fill="#222">A g</text>
<text transform="translate(205.71 500.2) scale(0.6274 1)" font-size="6.8" fill="#222">-1</text>
<text transform="translate(21.5 384.31) rotate(-90) scale(0.9086 1)" font-size="12.2" fill="#222">F g</text>
<text transform="translate(14.4 369.24) rotate(-90) scale(0.8365 1)" font-size="6.6" fill="#222">-1</text>
<text transform="translate(2.1 272.7) scale(1.0395 1)" font-size="19.6" font-weight="bold" fill="#000">(c)</text>
<line x1="398" y1="466.5" x2="677" y2="466.5" stroke="#454545" stroke-width="1"/>
<line x1="398.5" y1="262" x2="398.5" y2="467" stroke="#454545" stroke-width="1"/>
<line x1="398" y1="262.5" x2="677" y2="262.5" stroke="#3a3a3a" stroke-width="1"/>
<line x1="676.5" y1="262" x2="676.5" y2="467" stroke="#3a3a3a" stroke-width="1"/>
<line x1="394.1" y1="276.1" x2="398.5" y2="276.1" stroke="#454545" stroke-width="1"/>
<line x1="394.1" y1="330.3" x2="398.5" y2="330.3" stroke="#454545" stroke-width="1"/>
<line x1="394.1" y1="384.5" x2="398.5" y2="384.5" stroke="#454545" stroke-width="1"/>
<line x1="394.1" y1="438.7" x2="398.5" y2="438.7" stroke="#454545" stroke-width="1"/>
<line x1="396.1" y1="303.2" x2="398.5" y2="303.2" stroke="#454545" stroke-width="1"/>
<line x1="396.1" y1="357.4" x2="398.5" y2="357.4" stroke="#454545" stroke-width="1"/>
<line x1="396.1" y1="411.6" x2="398.5" y2="411.6" stroke="#454545" stroke-width="1"/>
<line x1="398.5" y1="466.5" x2="398.5" y2="470.5" stroke="#454545" stroke-width="1"/>
<line x1="444.8" y1="466.5" x2="444.8" y2="470.5" stroke="#454545" stroke-width="1"/>
<line x1="491.1" y1="466.5" x2="491.1" y2="470.5" stroke="#454545" stroke-width="1"/>
<line x1="537.4" y1="466.5" x2="537.4" y2="470.5" stroke="#454545" stroke-width="1"/>
<line x1="583.7" y1="466.5" x2="583.7" y2="470.5" stroke="#454545" stroke-width="1"/>
<line x1="630" y1="466.5" x2="630" y2="470.5" stroke="#454545" stroke-width="1"/>
<line x1="676.3" y1="466.5" x2="676.3" y2="470.5" stroke="#454545" stroke-width="1"/>
<line x1="421.65" y1="466.5" x2="421.65" y2="468.4" stroke="#454545" stroke-width="1"/>
<line x1="467.95" y1="466.5" x2="467.95" y2="468.4" stroke="#454545" stroke-width="1"/>
<line x1="514.25" y1="466.5" x2="514.25" y2="468.4" stroke="#454545" stroke-width="1"/>
<line x1="560.55" y1="466.5" x2="560.55" y2="468.4" stroke="#454545" stroke-width="1"/>
<line x1="606.85" y1="466.5" x2="606.85" y2="468.4" stroke="#454545" stroke-width="1"/>
<line x1="653.15" y1="466.5" x2="653.15" y2="468.4" stroke="#454545" stroke-width="1"/>
<text transform="translate(375.74 279.6) scale(0.8850 1)" font-size="12.2" fill="#222">-12</text>
<text transform="translate(381.67 333.8) scale(0.8850 1)" font-size="12.2" fill="#222">-8</text>
<text transform="translate(381.51 388) scale(0.8850 1)" font-size="12.2" fill="#222">-4</text>
<text transform="translate(385.21 442.2) scale(0.8850 1)" font-size="12.2" fill="#222">0</text>
<text transform="translate(395.49 482.9) scale(0.8850 1)" font-size="12.2" fill="#222">0</text>
<text transform="translate(441.8 482.9) scale(0.8850 1)" font-size="12.2" fill="#222">2</text>
<text transform="translate(488.14 482.9) scale(0.8850 1)" font-size="12.2" fill="#222">4</text>
<text transform="translate(534.36 482.9) scale(0.8850 1)" font-size="12.2" fill="#222">6</text>
<text transform="translate(580.7 482.9) scale(0.8850 1)" font-size="12.2" fill="#222">8</text>
<text transform="translate(623.79 482.9) scale(0.8850 1)" font-size="12.2" fill="#222">10</text>
<text transform="translate(670.16 482.9) scale(0.8850 1)" font-size="12.2" fill="#222">12</text>
<text transform="translate(516.67 504.5) scale(0.8647 1)" font-size="12.2" fill="#222">Z' (Ohm)</text>
<text transform="translate(367.7 393.02) rotate(-90) scale(0.8374 1)" font-size="12.2" fill="#222">Z" (Ohm)</text>
<text transform="translate(344.99 275) scale(1.0472 1)" font-size="19.6" font-weight="bold" fill="#000">(d)</text>
<rect x="404.5" y="421.5" width="29.5" height="28.2" fill="#fff"/>
<g clip-path="url(#ch)">
<line x1="356.3" y1="449.7" x2="384.5" y2="421.5" stroke="#3a3a3a" stroke-width="1.15"/>
<line x1="360.45" y1="449.7" x2="388.65" y2="421.5" stroke="#3a3a3a" stroke-width="1.15"/>
<line x1="364.6" y1="449.7" x2="392.8" y2="421.5" stroke="#3a3a3a" stroke-width="1.15"/>
<line x1="368.75" y1="449.7" x2="396.95" y2="421.5" stroke="#3a3a3a" stroke-width="1.15"/>
<line x1="372.9" y1="449.7" x2="401.1" y2="421.5" stroke="#3a3a3a" stroke-width="1.15"/>
<line x1="377.05" y1="449.7" x2="405.25" y2="421.5" stroke="#3a3a3a" stroke-width="1.15"/>
<line x1="381.2" y1="449.7" x2="409.4" y2="421.5" stroke="#3a3a3a" stroke-width="1.15"/>
<line x1="385.35" y1="449.7" x2="413.55" y2="421.5" stroke="#3a3a3a" stroke-width="1.15"/>
<line x1="389.5" y1="449.7" x2="417.7" y2="421.5" stroke="#3a3a3a" stroke-width="1.15"/>
<line x1="393.65" y1="449.7" x2="421.85" y2="421.5" stroke="#3a3a3a" stroke-width="1.15"/>
<line x1="397.8" y1="449.7" x2="426" y2="421.5" stroke="#3a3a3a" stroke-width="1.15"/>
<line x1="401.95" y1="449.7" x2="430.15" y2="421.5" stroke="#3a3a3a" stroke-width="1.15"/>
<line x1="406.1" y1="449.7" x2="434.3" y2="421.5" stroke="#3a3a3a" stroke-width="1.15"/>
<line x1="410.25" y1="449.7" x2="438.45" y2="421.5" stroke="#3a3a3a" stroke-width="1.15"/>
<line x1="414.4" y1="449.7" x2="442.6" y2="421.5" stroke="#3a3a3a" stroke-width="1.15"/>
<line x1="418.55" y1="449.7" x2="446.75" y2="421.5" stroke="#3a3a3a" stroke-width="1.15"/>
<line x1="422.7" y1="449.7" x2="450.9" y2="421.5" stroke="#3a3a3a" stroke-width="1.15"/>
<line x1="426.85" y1="449.7" x2="455.05" y2="421.5" stroke="#3a3a3a" stroke-width="1.15"/>
<line x1="431" y1="449.7" x2="459.2" y2="421.5" stroke="#3a3a3a" stroke-width="1.15"/>
<line x1="435.15" y1="449.7" x2="463.35" y2="421.5" stroke="#3a3a3a" stroke-width="1.15"/>
<line x1="439.3" y1="449.7" x2="467.5" y2="421.5" stroke="#3a3a3a" stroke-width="1.15"/>
<line x1="443.45" y1="449.7" x2="471.65" y2="421.5" stroke="#3a3a3a" stroke-width="1.15"/>
<line x1="447.6" y1="449.7" x2="475.8" y2="421.5" stroke="#3a3a3a" stroke-width="1.15"/>
<line x1="451.75" y1="449.7" x2="479.95" y2="421.5" stroke="#3a3a3a" stroke-width="1.15"/>
<line x1="455.9" y1="449.7" x2="484.1" y2="421.5" stroke="#3a3a3a" stroke-width="1.15"/>
<line x1="460.05" y1="449.7" x2="488.25" y2="421.5" stroke="#3a3a3a" stroke-width="1.15"/>
</g>
<rect x="404.5" y="421.5" width="29.5" height="28.2" fill="none" stroke="#444" stroke-width="0.9"/>
<polyline points="486.3,288.1 478.5,313.1 472.3,333.2 466.6,349.6 461.7,363.7 457.5,375 453.6,384.3 450.8,392.5 448.4,399.3 446.7,404.8 445,409.6 443,413.7 440.9,417.1 438.9,420.5 436.8,423.2" fill="none" stroke="#6a1480" stroke-width="1.5" stroke-linejoin="round"/>
<path d="M404.2 437.5 C404.97 436.5 405.55 435.31 406.5 434.5 C407.47 433.67 408.68 433.02 410 432.6 C411.48 432.13 413.19 432.13 415 432 C417.13 431.84 419.76 431.93 422 431.8 C424.08 431.68 426.41 431.91 428 431.3 C429.26 430.81 430.17 429.95 431 429 C431.85 428.02 432.31 426.61 433 425.5 C433.65 424.45 434.2 422.68 435 422.5 C435.72 422.34 437.15 423.14 437.5 424 C438.02 425.25 436.63 428.17 436 430 C435.44 431.63 434.99 433.25 434 434.5 C433 435.76 431.55 436.76 430 437.5 C428.27 438.32 426.16 438.67 424 439 C421.54 439.38 417.87 438.92 416 439.5 C414.88 439.85 414.08 440.27 413.5 441 C412.89 441.76 412.83 443 412.5 444 C412.17 445 411.92 446.06 411.5 447 C411.09 447.92 410.85 449.11 410 449.6 C408.91 450.23 405.94 450.35 405 449.6 C404.2 448.95 404.36 447.46 404.2 446 C403.96 443.78 404.2 440.33 404.2 437.5" fill="#5e0e6e" stroke="#5e0e6e" stroke-width="0.6" stroke-linejoin="round"/>
<circle cx="431.5" cy="431" r="4.0" fill="none" stroke="#8a4a9a" stroke-width="0.8"/>
<circle cx="433" cy="428.5" r="4.0" fill="none" stroke="#8a4a9a" stroke-width="0.8"/>
<circle cx="434.5" cy="426" r="4.0" fill="none" stroke="#8a4a9a" stroke-width="0.8"/>
<circle cx="435.8" cy="424.2" r="4.0" fill="none" stroke="#8a4a9a" stroke-width="0.8"/>
<circle cx="436.8" cy="423" r="4.0" fill="none" stroke="#8a4a9a" stroke-width="0.8"/>
<circle cx="486.3" cy="288.1" r="4.0" fill="#fff" stroke="#7a3e8c" stroke-width="0.9"/>
<circle cx="478.5" cy="313.1" r="4.0" fill="#fff" stroke="#7a3e8c" stroke-width="0.9"/>
<circle cx="472.3" cy="333.2" r="4.0" fill="#fff" stroke="#7a3e8c" stroke-width="0.9"/>
<circle cx="466.6" cy="349.6" r="4.0" fill="#fff" stroke="#7a3e8c" stroke-width="0.9"/>
<circle cx="461.7" cy="363.7" r="4.0" fill="#fff" stroke="#7a3e8c" stroke-width="0.9"/>
<circle cx="457.5" cy="375" r="4.0" fill="#fff" stroke="#7a3e8c" stroke-width="0.9"/>
<circle cx="453.6" cy="384.3" r="4.0" fill="#fff" stroke="#7a3e8c" stroke-width="0.9"/>
<circle cx="450.8" cy="392.5" r="4.0" fill="#fff" stroke="#7a3e8c" stroke-width="0.9"/>
<circle cx="448.4" cy="399.3" r="4.0" fill="#fff" stroke="#7a3e8c" stroke-width="0.9"/>
<circle cx="446.7" cy="404.8" r="4.0" fill="#fff" stroke="#7a3e8c" stroke-width="0.9"/>
<circle cx="445" cy="409.6" r="4.0" fill="#fff" stroke="#7a3e8c" stroke-width="0.9"/>
<circle cx="443" cy="413.7" r="4.0" fill="#fff" stroke="#7a3e8c" stroke-width="0.9"/>
<circle cx="440.9" cy="417.1" r="4.0" fill="#fff" stroke="#7a3e8c" stroke-width="0.9"/>
<circle cx="438.9" cy="420.5" r="4.0" fill="#fff" stroke="#7a3e8c" stroke-width="0.9"/>
<rect x="518.5" y="330.5" width="139" height="105" fill="#fff"/>
<g clip-path="url(#ci)">
<polyline points="532.6,440 532.7,428.9 533,421.4 533.4,416 534.1,411.6 535.1,408.2 536.1,405.2 537.5,402.5 539.1,400 541.2,397.6 544.6,395.2 548.3,392.2 552.8,389.1 558.2,385.7 565.1,382.6 572.3,380.2 580.6,379.3 588.3,379.7 596.4,380.9 603.4,382.3 609.5,383.9 614.5,384.7 618.6,385.3 622.1,385 626.2,383.3 631.5,380 637.5,375.9 643.8,368.8 651.3,359.3 656.4,345.5 660,330" fill="none" stroke="#70307a" stroke-width="0.9" stroke-linejoin="round"/>
<circle cx="532.7" cy="428.9" r="3.0" fill="#fff" stroke="#82528a" stroke-width="0.9"/>
<circle cx="533" cy="421.4" r="3.0" fill="#fff" stroke="#82528a" stroke-width="0.9"/>
<circle cx="533.4" cy="416" r="3.0" fill="#fff" stroke="#82528a" stroke-width="0.9"/>
<circle cx="534.1" cy="411.6" r="3.0" fill="#fff" stroke="#82528a" stroke-width="0.9"/>
<circle cx="535.1" cy="408.2" r="3.0" fill="#fff" stroke="#82528a" stroke-width="0.9"/>
<circle cx="536.1" cy="405.2" r="3.0" fill="#fff" stroke="#82528a" stroke-width="0.9"/>
<circle cx="537.5" cy="402.5" r="3.0" fill="#fff" stroke="#82528a" stroke-width="0.9"/>
<circle cx="539.1" cy="400" r="3.0" fill="#fff" stroke="#82528a" stroke-width="0.9"/>
<circle cx="541.2" cy="397.6" r="3.0" fill="#fff" stroke="#82528a" stroke-width="0.9"/>
<circle cx="544.6" cy="395.2" r="3.0" fill="#fff" stroke="#82528a" stroke-width="0.9"/>
<circle cx="548.3" cy="392.2" r="3.0" fill="#fff" stroke="#82528a" stroke-width="0.9"/>
<circle cx="552.8" cy="389.1" r="3.0" fill="#fff" stroke="#82528a" stroke-width="0.9"/>
<circle cx="558.2" cy="385.7" r="3.0" fill="#fff" stroke="#82528a" stroke-width="0.9"/>
<circle cx="565.1" cy="382.6" r="3.0" fill="#fff" stroke="#82528a" stroke-width="0.9"/>
<circle cx="572.3" cy="380.2" r="3.0" fill="#fff" stroke="#82528a" stroke-width="0.9"/>
<circle cx="580.6" cy="379.3" r="3.0" fill="#fff" stroke="#82528a" stroke-width="0.9"/>
<circle cx="588.3" cy="379.7" r="3.0" fill="#fff" stroke="#82528a" stroke-width="0.9"/>
<circle cx="596.4" cy="380.9" r="3.0" fill="#fff" stroke="#82528a" stroke-width="0.9"/>
<circle cx="603.4" cy="382.3" r="3.0" fill="#fff" stroke="#82528a" stroke-width="0.9"/>
<circle cx="609.5" cy="383.9" r="3.0" fill="#fff" stroke="#82528a" stroke-width="0.9"/>
<circle cx="614.5" cy="384.7" r="3.0" fill="#fff" stroke="#82528a" stroke-width="0.9"/>
<circle cx="618.6" cy="385.3" r="3.0" fill="#fff" stroke="#82528a" stroke-width="0.9"/>
<circle cx="622.1" cy="385" r="3.0" fill="#fff" stroke="#82528a" stroke-width="0.9"/>
<circle cx="626.2" cy="383.3" r="3.0" fill="#fff" stroke="#82528a" stroke-width="0.9"/>
<circle cx="631.5" cy="380" r="3.0" fill="#fff" stroke="#82528a" stroke-width="0.9"/>
<circle cx="637.5" cy="375.9" r="3.0" fill="#fff" stroke="#82528a" stroke-width="0.9"/>
<circle cx="643.8" cy="368.8" r="3.0" fill="#fff" stroke="#82528a" stroke-width="0.9"/>
<circle cx="651.3" cy="359.3" r="3.0" fill="#fff" stroke="#82528a" stroke-width="0.9"/>
<circle cx="656.4" cy="345.5" r="3.0" fill="#fff" stroke="#82528a" stroke-width="0.9"/>
</g>
<line x1="518.5" y1="435.5" x2="657.5" y2="435.5" stroke="#555" stroke-width="1"/>
<line x1="518.5" y1="330.5" x2="518.5" y2="435.5" stroke="#555" stroke-width="1"/>
<line x1="518.5" y1="330.5" x2="657.5" y2="330.5" stroke="#666" stroke-width="1"/>
<line x1="657.5" y1="330.5" x2="657.5" y2="435.5" stroke="#777" stroke-width="1"/>
<line x1="515.7" y1="330.4" x2="518.5" y2="330.4" stroke="#555" stroke-width="1"/>
<line x1="515.7" y1="356.5" x2="518.5" y2="356.5" stroke="#555" stroke-width="1"/>
<line x1="515.7" y1="382.6" x2="518.5" y2="382.6" stroke="#555" stroke-width="1"/>
<line x1="515.7" y1="408.7" x2="518.5" y2="408.7" stroke="#555" stroke-width="1"/>
<line x1="515.7" y1="434.8" x2="518.5" y2="434.8" stroke="#555" stroke-width="1"/>
<line x1="516.9" y1="343.45" x2="518.5" y2="343.45" stroke="#555" stroke-width="1"/>
<line x1="516.9" y1="369.55" x2="518.5" y2="369.55" stroke="#555" stroke-width="1"/>
<line x1="516.9" y1="395.65" x2="518.5" y2="395.65" stroke="#555" stroke-width="1"/>
<line x1="516.9" y1="421.75" x2="518.5" y2="421.75" stroke="#555" stroke-width="1"/>
<line x1="532.3" y1="435.5" x2="532.3" y2="438.1" stroke="#555" stroke-width="1"/>
<line x1="557.34" y1="435.5" x2="557.34" y2="438.1" stroke="#555" stroke-width="1"/>
<line x1="582.38" y1="435.5" x2="582.38" y2="438.1" stroke="#555" stroke-width="1"/>
<line x1="607.42" y1="435.5" x2="607.42" y2="438.1" stroke="#555" stroke-width="1"/>
<line x1="632.46" y1="435.5" x2="632.46" y2="438.1" stroke="#555" stroke-width="1"/>
<line x1="657.5" y1="435.5" x2="657.5" y2="438.1" stroke="#555" stroke-width="1"/>
<line x1="519.78" y1="435.5" x2="519.78" y2="437.1" stroke="#555" stroke-width="1"/>
<line x1="544.82" y1="435.5" x2="544.82" y2="437.1" stroke="#555" stroke-width="1"/>
<line x1="569.86" y1="435.5" x2="569.86" y2="437.1" stroke="#555" stroke-width="1"/>
<line x1="594.9" y1="435.5" x2="594.9" y2="437.1" stroke="#555" stroke-width="1"/>
<line x1="619.94" y1="435.5" x2="619.94" y2="437.1" stroke="#555" stroke-width="1"/>
<line x1="644.98" y1="435.5" x2="644.98" y2="437.1" stroke="#555" stroke-width="1"/>
<text transform="translate(499.58 334) scale(0.7300 1)" font-size="12" fill="#222">-0.6</text>
<text transform="translate(499.46 360.1) scale(0.7300 1)" font-size="12" fill="#222">-0.4</text>
<text transform="translate(499.64 386.2) scale(0.7300 1)" font-size="12" fill="#222">-0.2</text>
<text transform="translate(502.46 412.3) scale(0.7300 1)" font-size="12" fill="#222">0.0</text>
<text transform="translate(502.56 438.4) scale(0.7300 1)" font-size="12" fill="#222">0.2</text>
<text transform="translate(526.17 447.8) scale(0.7300 1)" font-size="12" fill="#222">0.4</text>
<text transform="translate(551.27 447.8) scale(0.7300 1)" font-size="12" fill="#222">0.6</text>
<text transform="translate(576.31 447.8) scale(0.7300 1)" font-size="12" fill="#222">0.8</text>
<text transform="translate(601.17 447.8) scale(0.7300 1)" font-size="12" fill="#222">1.0</text>
<text transform="translate(626.26 447.8) scale(0.7300 1)" font-size="12" fill="#222">1.2</text>
<text transform="translate(651.21 447.8) scale(0.7300 1)" font-size="12" fill="#222">1.4</text>
<text transform="translate(570.62 458.8) scale(0.7548 1)" font-size="12" fill="#222">Z' (Ohm)</text>
<text transform="translate(497.1 408.78) rotate(-90) scale(0.7551 1)" font-size="12" fill="#222">Z" (Ohm)</text>
</svg></body></html>
